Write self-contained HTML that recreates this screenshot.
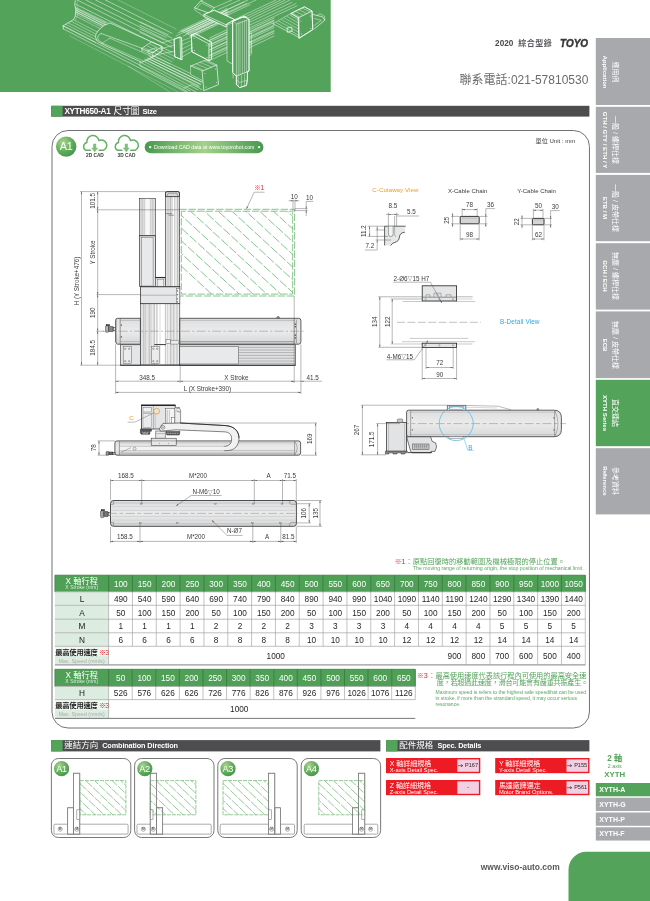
<!DOCTYPE html>
<html lang="zh-Hant">
<head>
<meta charset="utf-8">
<title>XYTH650-A1 尺寸圖 Size</title>
<style>
html,body{margin:0;padding:0;background:#fff;}
body{width:650px;height:901px;position:relative;overflow:hidden;font-family:"Liberation Sans","Noto Sans CJK TC",sans-serif;color:#333;}
.abs{position:absolute;}
.t{position:absolute;white-space:nowrap;line-height:1;}
.bar{position:absolute;height:11px;}
.bar span{position:absolute;left:13px;top:0;line-height:11.2px;color:#fff;font-size:8.6px;white-space:nowrap;}
.bar b{font-size:7.6px;}
.tab{position:absolute;left:595.7px;width:54.3px;color:#fff;}
.tab span{position:absolute;white-space:nowrap;line-height:1;transform-origin:0 0;transform:rotate(90deg) translateX(-50%);}
.tab .zh{font-size:7px;}
.tab .en{font-size:6.1px;font-weight:bold;}
.stab{position:absolute;left:595.7px;width:54.3px;height:13.2px;color:#fff;font-weight:bold;font-size:7px;line-height:13.4px;text-indent:3.6px;}
.cell{position:absolute;text-align:center;white-space:nowrap;font-size:8.25px;color:#231f20;}
.hd{color:#fff;}
.btn{position:absolute;width:94.3px;height:15.2px;color:#fff;}
.btn .zh{position:absolute;left:3.7px;top:1.6px;font-size:7px;line-height:1;white-space:nowrap;}
.btn .en{position:absolute;left:3.7px;top:9.9px;font-size:5.75px;line-height:1;white-space:nowrap;}
.btn .pg svg{vertical-align:0;margin-right:1.6px;}
.btn .pg{position:absolute;right:1.4px;top:1.4px;width:21.6px;height:12.4px;color:#231f20;font-size:5.6px;line-height:12.6px;text-align:center;white-space:nowrap;}
svg text{font-family:"Liberation Sans","Noto Sans CJK TC",sans-serif;}
</style>
</head>
<body>
<div id="pg" style="position:absolute;left:0;top:0;width:650px;height:901px;overflow:hidden;will-change:transform;">

<svg class="abs" style="left:0;top:0;" width="650" height="901" viewBox="0 0 650 901"><rect x="0.00" y="0.00" width="330.70" height="92.00" fill="#54a35b" /><rect x="595.80" y="38.00" width="54.40" height="67.00" fill="#a7a9ac" /><rect x="595.80" y="106.80" width="54.40" height="66.10" fill="#a7a9ac" /><rect x="595.80" y="174.90" width="54.40" height="66.30" fill="#a7a9ac" /><rect x="595.80" y="243.20" width="54.40" height="66.40" fill="#a7a9ac" /><rect x="595.80" y="311.40" width="54.40" height="66.70" fill="#a7a9ac" /><rect x="595.80" y="379.80" width="54.40" height="66.40" fill="#54a35b" /><rect x="595.80" y="448.20" width="54.40" height="66.20" fill="#a7a9ac" /><rect x="51.20" y="105.80" width="538.20" height="10.80" fill="#4d4d4f" /><rect x="51.20" y="105.80" width="11.40" height="10.80" fill="#54a35b" /><rect x="51.20" y="740.10" width="329.20" height="11.30" fill="#4d4d4f" /><rect x="51.20" y="740.10" width="11.40" height="11.30" fill="#54a35b" /><rect x="386.10" y="740.10" width="203.30" height="11.30" fill="#4d4d4f" /><rect x="386.10" y="740.10" width="11.50" height="11.30" fill="#54a35b" /><rect x="54.90" y="575.20" width="53.70" height="16.60" fill="#4f9f57" /><rect x="108.60" y="575.20" width="23.84" height="16.60" fill="#4f9f57" /><rect x="132.44" y="575.20" width="23.84" height="16.60" fill="#4f9f57" /><rect x="156.27" y="575.20" width="23.84" height="16.60" fill="#4f9f57" /><rect x="180.10" y="575.20" width="23.84" height="16.60" fill="#4f9f57" /><rect x="203.94" y="575.20" width="23.84" height="16.60" fill="#4f9f57" /><rect x="227.78" y="575.20" width="23.84" height="16.60" fill="#4f9f57" /><rect x="251.61" y="575.20" width="23.84" height="16.60" fill="#4f9f57" /><rect x="275.44" y="575.20" width="23.84" height="16.60" fill="#4f9f57" /><rect x="299.28" y="575.20" width="23.84" height="16.60" fill="#4f9f57" /><rect x="323.12" y="575.20" width="23.84" height="16.60" fill="#4f9f57" /><rect x="346.95" y="575.20" width="23.84" height="16.60" fill="#4f9f57" /><rect x="370.78" y="575.20" width="23.84" height="16.60" fill="#4f9f57" /><rect x="394.62" y="575.20" width="23.84" height="16.60" fill="#4f9f57" /><rect x="418.46" y="575.20" width="23.84" height="16.60" fill="#4f9f57" /><rect x="442.29" y="575.20" width="23.84" height="16.60" fill="#4f9f57" /><rect x="466.12" y="575.20" width="23.84" height="16.60" fill="#4f9f57" /><rect x="489.96" y="575.20" width="23.84" height="16.60" fill="#4f9f57" /><rect x="513.79" y="575.20" width="23.84" height="16.60" fill="#4f9f57" /><rect x="537.63" y="575.20" width="23.84" height="16.60" fill="#4f9f57" /><rect x="561.47" y="575.20" width="23.84" height="16.60" fill="#4f9f57" /><rect x="54.90" y="591.80" width="53.70" height="13.50" fill="#dcece0" /><rect x="54.90" y="605.30" width="53.70" height="13.90" fill="#dcece0" /><rect x="54.90" y="619.20" width="53.70" height="13.60" fill="#dcece0" /><rect x="54.90" y="632.80" width="53.70" height="13.50" fill="#dcece0" /><rect x="54.90" y="646.30" width="53.70" height="18.10" fill="#dcece0" /><rect x="54.90" y="646.30" width="53.70" height="9.77" fill="#f1f8f2" /><rect x="54.90" y="669.30" width="53.70" height="17.10" fill="#4f9f57" /><rect x="108.60" y="669.30" width="23.59" height="17.10" fill="#4f9f57" /><rect x="132.19" y="669.30" width="23.59" height="17.10" fill="#4f9f57" /><rect x="155.78" y="669.30" width="23.59" height="17.10" fill="#4f9f57" /><rect x="179.38" y="669.30" width="23.59" height="17.10" fill="#4f9f57" /><rect x="202.97" y="669.30" width="23.59" height="17.10" fill="#4f9f57" /><rect x="226.56" y="669.30" width="23.59" height="17.10" fill="#4f9f57" /><rect x="250.15" y="669.30" width="23.59" height="17.10" fill="#4f9f57" /><rect x="273.75" y="669.30" width="23.59" height="17.10" fill="#4f9f57" /><rect x="297.34" y="669.30" width="23.59" height="17.10" fill="#4f9f57" /><rect x="320.93" y="669.30" width="23.59" height="17.10" fill="#4f9f57" /><rect x="344.52" y="669.30" width="23.59" height="17.10" fill="#4f9f57" /><rect x="368.12" y="669.30" width="23.59" height="17.10" fill="#4f9f57" /><rect x="391.71" y="669.30" width="23.59" height="17.10" fill="#4f9f57" /><rect x="54.90" y="686.40" width="53.70" height="13.20" fill="#dcece0" /><rect x="54.90" y="699.60" width="53.70" height="18.80" fill="#dcece0" /><rect x="54.90" y="699.60" width="53.70" height="10.15" fill="#f1f8f2" /><rect x="386.00" y="758.00" width="94.30" height="15.20" fill="#ed1c24" /><rect x="457.30" y="759.40" width="21.60" height="12.40" fill="#f3cfe3" /><rect x="495.20" y="758.00" width="94.30" height="15.20" fill="#ed1c24" /><rect x="566.50" y="759.40" width="21.60" height="12.40" fill="#f3cfe3" /><rect x="386.00" y="780.00" width="94.30" height="15.20" fill="#ed1c24" /><rect x="457.30" y="781.40" width="21.60" height="12.40" fill="#f3cfe3" /><rect x="495.20" y="780.00" width="94.30" height="15.20" fill="#ed1c24" /><rect x="566.50" y="781.40" width="21.60" height="12.40" fill="#f3cfe3" /><rect x="595.80" y="783.00" width="54.40" height="13.30" fill="#54a35b" /><rect x="595.80" y="797.75" width="54.40" height="13.30" fill="#a7a9ac" /><rect x="595.80" y="812.50" width="54.40" height="13.30" fill="#a7a9ac" /><rect x="595.80" y="827.25" width="54.40" height="13.30" fill="#a7a9ac" /><rect x="568.50" y="851.70" width="100.00" height="70.00" fill="#54a35b" rx="18"/></svg>
<svg class="abs" style="left:0;top:0;" width="331" height="92" viewBox="0 0 331 92">
<g fill="none" stroke="#fff" stroke-width="0.5" stroke-opacity="0.88" stroke-linejoin="round" stroke-linecap="round">
<polyline points="105.4,0.0 172.0,33.3" stroke-width="0.55"/>
<polyline points="95.6,0.0 172.0,38.2" stroke-width="0.55"/>
<polyline points="85.8,0.0 172.0,43.1" stroke-width="0.55"/>
<polyline points="77.2,0.0 172.0,47.4" stroke-width="0.55"/>
<polyline points="75.6,4.1 172.0,52.3" stroke-width="0.55"/>
<polyline points="118.0,0.0 176.0,29.0" stroke-width="0.45" stroke-opacity="0.60"/>
<polyline points="75.3,0.6 74.7,4.9 75.9,9.8 75.3,16.0 73.5,19.7 63.0,25.8 63.4,28.9" stroke-width="0.70"/>
<polyline points="77.4,0.4 77.0,5.0 78.0,10.0 77.4,16.0 75.6,19.9" stroke-width="0.40" stroke-opacity="0.60"/>
<polyline points="75.9,7.4 107.9,22.8" stroke-width="0.45"/>
<polyline points="75.8,9.6 107.4,25.0" stroke-width="0.45"/>
<polyline points="75.6,11.7 107.0,27.2" stroke-width="0.45"/>
<polyline points="75.5,13.8 106.5,29.4" stroke-width="0.45"/>
<polyline points="75.3,16.0 106.0,31.6" stroke-width="0.45"/>
<polyline points="76.0,8.4 106.0,23.0" stroke-width="1.00" stroke-opacity="0.55"/>
<polyline points="75.9,10.2 105.5,25.0" stroke-width="1.00" stroke-opacity="0.55"/>
<polyline points="75.8,12.0 105.0,27.0" stroke-width="1.00" stroke-opacity="0.55"/>
<polyline points="73.5,19.7 100.5,33.6" stroke-width="0.45"/>
<polyline points="70.9,21.2 99.3,35.8" stroke-width="0.45"/>
<polyline points="68.2,22.8 98.0,38.0" stroke-width="0.45"/>
<polyline points="65.6,24.3 96.8,40.2" stroke-width="0.45"/>
<polyline points="63.0,25.8 95.6,42.4" stroke-width="0.45"/>
<polyline points="63.0,25.8 190.0,90.8" stroke-width="0.55"/>
<polyline points="63.4,28.9 186.0,92.0" stroke-width="0.55"/>
<polyline points="70.0,36.0 178.0,92.0" stroke-width="0.40" stroke-opacity="0.60"/>
<polygon points="110.4,23.1 151.6,41.9 162.0,46.5 162.0,51.0 152.8,57.0 141.8,62.4 102.0,44.0 97.2,41.0 95.6,37.6 95.8,34.4 98.6,30.0 104.0,25.6" stroke-width="0.70" fill="#54a35b"/>
<polyline points="101.2,33.5 98.4,35.4 97.6,37.8 98.6,40.4 102.4,43.0" stroke-width="0.60"/>
<polyline points="101.2,33.5 143.0,48.6" stroke-width="0.60"/>
<polyline points="102.4,43.0 110.0,38.2" stroke-width="0.45"/>
<polyline points="102.4,43.0 141.8,60.4" stroke-width="0.45"/>
<polyline points="110.0,38.2 141.8,52.0" stroke-width="0.45"/>
<polygon points="141.8,48.3 151.6,41.9 162.0,46.5 152.8,52.6" stroke-width="0.70"/>
<polygon points="147.9,50.8 155.9,47.7 157.2,50.2 149.2,53.8" stroke-width="0.60"/>
<polyline points="141.8,48.3 141.8,52.0 152.8,57.0 152.8,52.6" stroke-width="0.50"/>
<polyline points="152.8,57.0 162.0,51.0 162.0,46.5" stroke-width="0.50"/>
<polyline points="140.0,21.8 168.3,34.8" stroke-width="0.50"/>
<polyline points="140.0,25.3 166.3,37.5" stroke-width="0.50"/>
<polyline points="140.0,28.9 164.2,40.1" stroke-width="0.50"/>
<polyline points="140.0,32.4 162.2,42.8" stroke-width="0.50"/>
<polyline points="162.2,42.8 174.5,39.1" stroke-width="0.50"/>
<polyline points="160.0,49.0 174.5,45.0" stroke-width="0.50"/>
<polyline points="156.0,55.0 175.0,51.0" stroke-width="0.50"/>
<polyline points="150.0,44.0 176.0,57.0" stroke-width="0.45"/>
<polyline points="147.3,46.0 174.0,59.3" stroke-width="0.45"/>
<polyline points="144.7,48.0 172.0,61.7" stroke-width="0.45"/>
<polyline points="142.0,50.0 170.0,64.0" stroke-width="0.45"/>
<polyline points="152.0,55.0 204.0,80.0" stroke-width="0.50"/>
<polyline points="149.6,56.4 202.4,82.4" stroke-width="0.50"/>
<polyline points="147.2,57.8 200.8,84.8" stroke-width="0.50"/>
<polyline points="144.8,59.2 199.2,87.2" stroke-width="0.50"/>
<polyline points="142.4,60.6 197.6,89.6" stroke-width="0.50"/>
<polyline points="140.0,62.0 196.0,92.0" stroke-width="0.50"/>
<polyline points="150.0,57.0 202.0,82.0" stroke-width="1.00" stroke-opacity="0.50"/>
<polyline points="148.0,58.5 200.5,84.0" stroke-width="1.00" stroke-opacity="0.50"/>
<polyline points="146.0,60.0 199.0,86.0" stroke-width="1.00" stroke-opacity="0.50"/>
<polyline points="140.0,62.0 140.0,66.0 188.0,92.0" stroke-width="0.50"/>
<polyline points="128.0,66.0 170.0,92.0" stroke-width="0.45" stroke-opacity="0.60"/>
<polygon points="190.6,66.0 205.8,60.0 216.8,65.0 218.5,84.6 204.2,90.5 202.5,80.5 190.6,74.5" stroke-width="0.01" fill="#54a35b"/>
<polygon points="202.5,71.0 216.8,65.0 218.5,84.6 204.2,90.5" stroke-width="0.75"/>
<polyline points="190.6,66.0 205.8,60.0 216.8,65.0" stroke-width="0.60"/>
<polyline points="190.6,66.0 202.5,71.0" stroke-width="0.60"/>
<polyline points="190.6,66.0 190.6,74.5 202.5,80.5" stroke-width="0.50"/>
<polyline points="192.3,65.3 203.4,70.2" stroke-width="0.45"/>
<polyline points="196.2,63.8 207.3,68.6" stroke-width="0.45"/>
<polyline points="200.1,62.3 211.3,67.0" stroke-width="0.45"/>
<polyline points="204.0,60.8 215.2,65.4" stroke-width="0.45"/>
<circle cx="205.0" cy="73.5" r="0.5" fill="#fff" stroke="none" fill-opacity="0.8"/>
<circle cx="215.6" cy="69.0" r="0.5" fill="#fff" stroke="none" fill-opacity="0.8"/>
<circle cx="206.0" cy="87.0" r="0.5" fill="#fff" stroke="none" fill-opacity="0.8"/>
<circle cx="216.6" cy="82.5" r="0.5" fill="#fff" stroke="none" fill-opacity="0.8"/>
<polyline points="184.0,88.0 192.0,84.6 202.0,89.6" stroke-width="0.50"/>
<polygon points="174.5,39.1 180.0,37.0 181.6,37.8 182.0,59.8 180.6,59.2 175.1,56.9" stroke-width="0.80" fill="#54a35b"/>
<polygon points="174.5,39.1 180.0,37.0 180.6,59.2 175.1,56.9" stroke-width="0.80"/>
<polyline points="180.0,37.0 181.6,37.8 182.0,59.8 180.6,59.2" stroke-width="0.50"/>
<polygon points="191.7,34.8 195.0,33.4 211.6,42.4 211.6,59.0 208.9,60.6 192.3,52.0" stroke-width="0.80" fill="#54a35b"/>
<polygon points="191.7,34.8 208.9,44.0 208.9,60.6 192.3,52.0" stroke-width="0.80"/>
<polyline points="191.7,34.8 195.0,33.4 211.6,42.4 208.9,44.0" stroke-width="0.60"/>
<polyline points="211.6,42.4 211.6,59.0 208.9,60.6" stroke-width="0.60"/>
<circle cx="194.0" cy="38.5" r="0.5" fill="#fff" stroke="none" fill-opacity="0.8"/>
<circle cx="206.8" cy="45.4" r="0.5" fill="#fff" stroke="none" fill-opacity="0.8"/>
<circle cx="194.4" cy="50.4" r="0.5" fill="#fff" stroke="none" fill-opacity="0.8"/>
<circle cx="207.0" cy="57.4" r="0.5" fill="#fff" stroke="none" fill-opacity="0.8"/>
<polyline points="181.6,41.0 191.7,37.0" stroke-width="0.45"/>
<polyline points="181.7,45.0 191.8,40.5" stroke-width="0.45"/>
<polyline points="181.8,49.0 192.0,44.0" stroke-width="0.45"/>
<polyline points="181.9,53.0 192.2,47.5" stroke-width="0.45"/>
<polyline points="182.0,57.0 192.3,51.0" stroke-width="0.45"/>
<polyline points="209.5,38.0 228.0,29.3" stroke-width="0.50"/>
<polyline points="209.5,40.0 228.0,31.3" stroke-width="0.50"/>
<polyline points="209.5,42.2 228.0,33.5" stroke-width="0.50"/>
<polyline points="209.5,44.6 228.0,35.9" stroke-width="0.50"/>
<polyline points="209.5,47.0 228.0,38.3" stroke-width="0.50"/>
<polyline points="209.5,49.6 228.0,40.9" stroke-width="0.50"/>
<polyline points="209.5,52.2 228.0,43.5" stroke-width="0.50"/>
<polyline points="209.5,55.0 228.0,46.3" stroke-width="0.50"/>
<polyline points="209.5,57.8 228.0,49.1" stroke-width="0.50"/>
<polyline points="209.5,60.6 228.0,51.9" stroke-width="0.50"/>
<polyline points="249.6,29.6 274.0,18.1" stroke-width="0.50"/>
<polyline points="249.6,31.6 274.0,20.1" stroke-width="0.50"/>
<polyline points="249.6,34.0 274.0,22.5" stroke-width="0.50"/>
<polyline points="249.6,36.6 274.0,25.1" stroke-width="0.50"/>
<polyline points="249.6,39.2 274.0,27.7" stroke-width="0.50"/>
<polyline points="249.6,42.0 274.0,30.5" stroke-width="0.50"/>
<polyline points="249.6,44.8 274.0,33.3" stroke-width="0.50"/>
<polyline points="249.6,47.6 274.0,36.1" stroke-width="0.50"/>
<polyline points="178.0,33.0 244.0,2.0" stroke-width="0.50"/>
<polyline points="187.0,31.5 247.0,3.3" stroke-width="0.50"/>
<polyline points="196.0,30.0 250.0,4.6" stroke-width="0.50"/>
<polyline points="176.0,36.0 228.0,11.6" stroke-width="0.50"/>
<polyline points="183.0,36.2 229.0,14.6" stroke-width="0.50"/>
<polyline points="190.0,36.4 230.0,17.6" stroke-width="0.50"/>
<polyline points="209.5,40.6 228.0,31.9" stroke-width="1.00" stroke-opacity="0.50"/>
<polyline points="209.5,45.4 228.0,36.7" stroke-width="1.00" stroke-opacity="0.50"/>
<polyline points="209.5,50.2 228.0,41.5" stroke-width="1.00" stroke-opacity="0.50"/>
<polyline points="209.5,56.0 228.0,47.3" stroke-width="1.00" stroke-opacity="0.50"/>
<polyline points="249.6,32.4 274.0,20.9" stroke-width="1.00" stroke-opacity="0.50"/>
<polyline points="249.6,37.6 274.0,26.1" stroke-width="1.00" stroke-opacity="0.50"/>
<polyline points="249.6,43.0 274.0,31.5" stroke-width="1.00" stroke-opacity="0.50"/>
<polyline points="180.1,30.8 227.0,8.5" stroke-width="0.50"/>
<polyline points="182.1,31.8 227.0,10.4" stroke-width="0.50"/>
<polyline points="184.2,32.7 227.0,12.4" stroke-width="0.50"/>
<polyline points="186.2,33.7 227.0,14.3" stroke-width="0.50"/>
<polyline points="188.2,34.7 227.0,16.3" stroke-width="0.50"/>
<polyline points="190.3,35.6 227.0,18.2" stroke-width="0.50"/>
<polyline points="192.3,36.6 227.0,20.2" stroke-width="0.50"/>
<polyline points="182.0,31.6 227.0,10.4" stroke-width="1.00" stroke-opacity="0.45"/>
<polyline points="186.0,33.5 227.0,14.2" stroke-width="1.00" stroke-opacity="0.45"/>
<polyline points="190.0,35.4 227.0,18.0" stroke-width="1.00" stroke-opacity="0.45"/>
<polyline points="214.3,7.6 232.0,0.0" stroke-width="0.50"/>
<polyline points="218.2,9.7 240.0,0.0" stroke-width="0.50"/>
<polyline points="222.1,11.9 248.0,0.0" stroke-width="0.50"/>
<polyline points="226.0,14.0 256.0,0.0" stroke-width="0.50"/>
<polyline points="234.6,19.5 276.0,0.0" stroke-width="0.50"/>
<polyline points="239.4,19.7 280.7,0.0" stroke-width="0.50"/>
<polyline points="244.2,19.8 285.3,0.0" stroke-width="0.50"/>
<polyline points="249.0,20.0 290.0,0.0" stroke-width="0.50"/>
<polyline points="250.0,22.0 292.0,2.4" stroke-width="0.50"/>
<polyline points="250.0,25.0 296.0,3.6" stroke-width="0.50"/>
<polyline points="250.0,27.6 297.0,5.8" stroke-width="0.50"/>
<polygon points="194.8,7.6 200.8,0.8 214.3,7.6 209.2,12.7" stroke-width="0.75" fill="#54a35b"/>
<polyline points="197.0,8.0 201.4,3.0 211.6,8.0" stroke-width="0.45"/>
<polyline points="200.8,0.8 203.0,0.0" stroke-width="0.50"/>
<polygon points="204.2,14.4 214.3,10.2 234.6,19.5 226.2,24.5 226.2,27.0 204.2,16.6" stroke-width="0.70" fill="#54a35b"/>
<polygon points="204.2,14.4 214.3,10.2 234.6,19.5 226.2,24.5" stroke-width="0.70"/>
<polyline points="194.8,7.6 194.8,10.0 204.2,16.6 204.2,14.4" stroke-width="0.50"/>
<polyline points="204.2,16.6 226.2,27.0 226.2,24.5" stroke-width="0.50"/>
<polygon points="227.0,25.4 227.0,61.0 231.2,63.4 233.0,63.0 233.0,23.0" stroke-width="0.60" fill="#54a35b"/>
<polygon points="233.0,21.2 244.8,16.2 249.0,19.5 249.0,71.0 247.4,72.0 247.4,79.6 246.4,85.4 239.6,87.6 236.4,84.6 236.4,76.2 233.0,72.8" stroke-width="0.85" fill="#54a35b"/>
<polygon points="233.0,21.2 244.8,16.2 249.0,19.5 249.0,71.0 236.4,76.2 233.0,72.8" stroke-width="0.85"/>
<polyline points="233.0,21.2 236.4,24.0 236.4,76.2" stroke-width="0.50"/>
<polyline points="236.4,24.0 249.0,19.5" stroke-width="0.50"/>
<polyline points="238.2,22.8 238.2,74.7" stroke-width="0.45"/>
<polyline points="240.0,22.1 240.0,73.9" stroke-width="0.45"/>
<polyline points="242.4,21.2 242.4,72.9" stroke-width="0.45"/>
<polyline points="244.6,20.4 244.6,72.0" stroke-width="0.45"/>
<polyline points="246.6,19.7 246.6,71.2" stroke-width="0.45"/>
<polyline points="249.0,33.8 251.6,33.0 251.6,54.2 249.0,55.8" stroke-width="0.50"/>
<polyline points="249.4,42.0 251.0,41.4 251.0,52.0 249.4,52.8" stroke-width="0.45"/>
<polyline points="236.4,76.2 236.4,84.6 239.6,87.6 246.4,85.4 247.4,79.6 247.4,71.8" stroke-width="0.70"/>
<polyline points="238.2,77.0 238.2,86.4" stroke-width="0.45"/>
<polyline points="241.4,75.7 241.4,86.2" stroke-width="0.45"/>
<polyline points="244.6,74.4 244.6,86.0" stroke-width="0.45"/>
<polyline points="236.4,80.0 239.6,82.6 247.2,80.0" stroke-width="0.45"/>
<polyline points="234.6,20.4 241.4,17.0 246.4,17.8" stroke-width="1.00"/>
<polyline points="233.0,74.0 233.0,78.0" stroke-width="0.50"/>
<polygon points="298.5,17.8 290.8,13.5 304.4,6.8 312.0,11.0 312.8,29.6 299.3,38.1" stroke-width="0.85" fill="#54a35b"/>
<polygon points="298.5,17.8 312.0,11.0 312.8,29.6 299.3,38.1" stroke-width="0.85"/>
<polyline points="298.5,17.8 290.8,13.5 304.4,6.8 312.0,11.0" stroke-width="0.60"/>
<polyline points="292.6,13.2 299.2,16.8" stroke-width="0.45"/>
<polyline points="295.9,11.5 302.7,15.1" stroke-width="0.45"/>
<polyline points="299.1,9.9 306.1,13.3" stroke-width="0.45"/>
<polyline points="302.4,8.2 309.6,11.6" stroke-width="0.45"/>
<polyline points="273.0,23.7 298.5,37.2" stroke-width="0.60"/>
<polyline points="273.0,23.7 290.8,13.5" stroke-width="0.50"/>
<polyline points="276.0,22.6 299.0,35.4" stroke-width="0.45"/>
<polyline points="278.8,21.1 298.9,32.3" stroke-width="0.45"/>
<polyline points="281.6,19.6 298.8,29.2" stroke-width="0.45"/>
<polyline points="284.4,18.0 298.8,26.2" stroke-width="0.45"/>
<polyline points="287.2,16.5 298.7,23.1" stroke-width="0.45"/>
<polyline points="290.0,15.0 298.6,20.0" stroke-width="0.45"/>
<polyline points="312.8,14.4 323.0,17.0 324.7,20.3 314.5,28.8" stroke-width="0.70"/>
<polyline points="314.5,18.6 321.3,20.3 314.5,25.4" stroke-width="0.50"/>
<polyline points="317.0,15.6 320.0,13.6 324.7,16.4 324.7,20.3" stroke-width="0.50"/>
<polygon points="287.4,27.9 291.7,27.1 292.2,31.3 287.8,32.2" stroke-width="0.80"/>
<circle cx="301.0" cy="21.0" r="0.5" fill="#fff" stroke="none" fill-opacity="0.8"/>
<circle cx="310.4" cy="16.0" r="0.5" fill="#fff" stroke="none" fill-opacity="0.8"/>
<circle cx="301.6" cy="34.0" r="0.5" fill="#fff" stroke="none" fill-opacity="0.8"/>
<circle cx="310.8" cy="28.6" r="0.5" fill="#fff" stroke="none" fill-opacity="0.8"/>
</g></svg>
<div class="t" id="y2020" style="left:495.1px;top:39.6px;font-size:8.2px;font-weight:bold;color:#4a4a4c;">2020</div>
<div class="t" id="cat" style="left:518.3px;top:39.5px;font-size:8px;font-weight:bold;color:#55565a;letter-spacing:0.45px;">綜合型錄</div>
<div class="t" id="toyo" style="left:560.4px;top:37.6px;font-size:11.3px;font-weight:bold;font-style:italic;color:#3a3a3a;transform-origin:0 50%;transform:scaleX(0.88);-webkit-text-stroke:0.5px #3a3a3a;">TOYO</div>
<div class="t" id="phone" style="left:459.6px;top:73.9px;font-size:12px;color:#6a6b6e;">聯系電話:021-57810530</div>
<div class="t" id="unit" style="left:535.6px;top:138.1px;font-size:6.1px;color:#3a3a3a;">單位 <span style="font-size:6px">Unit : mm</span></div>
<div class="tab" style="top:38.0px;height:67.0px;">
<span class="zh" style="left:23.2px;top:33.5px;">應用例</span>
<span class="en" style="left:12.1px;top:33.5px;">Application</span>
</div>
<div class="tab" style="top:106.8px;height:66.1px;">
<span class="zh" style="left:23.2px;top:33.1px;">一般 / 螺桿仕樣</span>
<span class="en" style="left:12.1px;top:33.1px;">GTH / GTY / ETH / Y</span>
</div>
<div class="tab" style="top:174.9px;height:66.3px;">
<span class="zh" style="left:23.2px;top:33.1px;">一般 / 皮帶仕樣</span>
<span class="en" style="left:12.1px;top:33.1px;">ETB / M</span>
</div>
<div class="tab" style="top:243.2px;height:66.4px;">
<span class="zh" style="left:23.2px;top:33.2px;">無塵 / 螺桿仕樣</span>
<span class="en" style="left:12.1px;top:33.2px;">GCH / ECH</span>
</div>
<div class="tab" style="top:311.4px;height:66.7px;">
<span class="zh" style="left:23.2px;top:33.4px;">無塵 / 皮帶仕樣</span>
<span class="en" style="left:12.1px;top:33.4px;">ECB</span>
</div>
<div class="tab" style="top:379.8px;height:66.4px;">
<span class="zh" style="left:23.2px;top:33.2px;">直交連結</span>
<span class="en" style="left:12.1px;top:33.2px;">XYTH Series</span>
</div>
<div class="tab" style="top:448.2px;height:66.2px;">
<span class="zh" style="left:23.2px;top:33.1px;">參考資料</span>
<span class="en" style="left:12.1px;top:33.1px;">Reference</span>
</div>
<div class="bar" style="left:51px;top:105.6px;width:538.2px;"><span id="h1a" style="left:13.4px;"><b style="font-size:8.2px;letter-spacing:-0.25px;">XYTH650-A1</b></span><span id="h1b" style="left:62.6px;font-size:8.6px;">尺寸圖</span><span id="h1c" style="left:91.4px;"><b style="font-size:7.6px;letter-spacing:-0.2px;">Size</b></span></div>
<div class="bar" style="left:51px;top:740.3px;width:329.6px;height:11.2px;"><span id="h2a" style="left:13.2px;font-size:8.5px;">連結方向</span><span id="h2b" style="left:51.2px;"><b style="font-size:7.3px;letter-spacing:-0.12px;">Combination Direction</b></span></div>
<div class="bar" style="left:386px;top:740.3px;width:203.2px;height:11.2px;"><span id="h3a" style="left:13.2px;font-size:8.5px;">配件規格</span><span id="h3b" style="left:51.4px;"><b style="font-size:7.3px;letter-spacing:-0.12px;">Spec. Details</b></span></div>
<svg class="abs" style="left:0;top:0;" width="650" height="901" viewBox="0 0 650 901"><rect x="52" y="130.5" width="537.45" height="597.5" rx="16" ry="16" fill="none" stroke="#707174" stroke-width="1"/></svg>
<div class="cell hd" style="left:54.90px;top:575.20px;width:53.70px;height:16.60px;"><span class="t" style="left:0;width:100%;top:2.4px;font-size:8.2px;color:#fff;letter-spacing:0px;">X 軸行程</span><span class="t" style="left:0;width:100%;top:11.1px;font-size:4.9px;color:#d9eedb;letter-spacing:0.1px;">X Stroke (mm)</span></div>
<div class="cell hd" style="left:108.90px;top:578px;width:23.84px;height:14px;line-height:14px;">100</div>
<div class="cell hd" style="left:132.74px;top:578px;width:23.84px;height:14px;line-height:14px;">150</div>
<div class="cell hd" style="left:156.57px;top:578px;width:23.84px;height:14px;line-height:14px;">200</div>
<div class="cell hd" style="left:180.41px;top:578px;width:23.84px;height:14px;line-height:14px;">250</div>
<div class="cell hd" style="left:204.24px;top:578px;width:23.84px;height:14px;line-height:14px;">300</div>
<div class="cell hd" style="left:228.08px;top:578px;width:23.84px;height:14px;line-height:14px;">350</div>
<div class="cell hd" style="left:251.91px;top:578px;width:23.84px;height:14px;line-height:14px;">400</div>
<div class="cell hd" style="left:275.75px;top:578px;width:23.84px;height:14px;line-height:14px;">450</div>
<div class="cell hd" style="left:299.58px;top:578px;width:23.84px;height:14px;line-height:14px;">500</div>
<div class="cell hd" style="left:323.42px;top:578px;width:23.84px;height:14px;line-height:14px;">550</div>
<div class="cell hd" style="left:347.25px;top:578px;width:23.84px;height:14px;line-height:14px;">600</div>
<div class="cell hd" style="left:371.08px;top:578px;width:23.84px;height:14px;line-height:14px;">650</div>
<div class="cell hd" style="left:394.92px;top:578px;width:23.84px;height:14px;line-height:14px;">700</div>
<div class="cell hd" style="left:418.76px;top:578px;width:23.84px;height:14px;line-height:14px;">750</div>
<div class="cell hd" style="left:442.59px;top:578px;width:23.84px;height:14px;line-height:14px;">800</div>
<div class="cell hd" style="left:466.43px;top:578px;width:23.84px;height:14px;line-height:14px;">850</div>
<div class="cell hd" style="left:490.26px;top:578px;width:23.84px;height:14px;line-height:14px;">900</div>
<div class="cell hd" style="left:514.09px;top:578px;width:23.84px;height:14px;line-height:14px;">950</div>
<div class="cell hd" style="left:537.93px;top:578px;width:23.84px;height:14px;line-height:14px;">1000</div>
<div class="cell hd" style="left:561.76px;top:578px;width:23.84px;height:14px;line-height:14px;">1050</div>
<div class="cell " style="left:55.20px;top:593px;width:53.70px;height:14px;line-height:14px;color:#222;">L</div>
<div class="cell " style="left:108.90px;top:593px;width:23.84px;height:14px;line-height:14px;">490</div>
<div class="cell " style="left:132.74px;top:593px;width:23.84px;height:14px;line-height:14px;">540</div>
<div class="cell " style="left:156.57px;top:593px;width:23.84px;height:14px;line-height:14px;">590</div>
<div class="cell " style="left:180.41px;top:593px;width:23.84px;height:14px;line-height:14px;">640</div>
<div class="cell " style="left:204.24px;top:593px;width:23.84px;height:14px;line-height:14px;">690</div>
<div class="cell " style="left:228.08px;top:593px;width:23.84px;height:14px;line-height:14px;">740</div>
<div class="cell " style="left:251.91px;top:593px;width:23.84px;height:14px;line-height:14px;">790</div>
<div class="cell " style="left:275.75px;top:593px;width:23.84px;height:14px;line-height:14px;">840</div>
<div class="cell " style="left:299.58px;top:593px;width:23.84px;height:14px;line-height:14px;">890</div>
<div class="cell " style="left:323.42px;top:593px;width:23.84px;height:14px;line-height:14px;">940</div>
<div class="cell " style="left:347.25px;top:593px;width:23.84px;height:14px;line-height:14px;">990</div>
<div class="cell " style="left:371.08px;top:593px;width:23.84px;height:14px;line-height:14px;">1040</div>
<div class="cell " style="left:394.92px;top:593px;width:23.84px;height:14px;line-height:14px;">1090</div>
<div class="cell " style="left:418.76px;top:593px;width:23.84px;height:14px;line-height:14px;">1140</div>
<div class="cell " style="left:442.59px;top:593px;width:23.84px;height:14px;line-height:14px;">1190</div>
<div class="cell " style="left:466.43px;top:593px;width:23.84px;height:14px;line-height:14px;">1240</div>
<div class="cell " style="left:490.26px;top:593px;width:23.84px;height:14px;line-height:14px;">1290</div>
<div class="cell " style="left:514.09px;top:593px;width:23.84px;height:14px;line-height:14px;">1340</div>
<div class="cell " style="left:537.93px;top:593px;width:23.84px;height:14px;line-height:14px;">1390</div>
<div class="cell " style="left:561.76px;top:593px;width:23.84px;height:14px;line-height:14px;">1440</div>
<div class="cell " style="left:55.20px;top:607px;width:53.70px;height:14px;line-height:14px;color:#222;">A</div>
<div class="cell " style="left:108.90px;top:607px;width:23.84px;height:14px;line-height:14px;">50</div>
<div class="cell " style="left:132.74px;top:607px;width:23.84px;height:14px;line-height:14px;">100</div>
<div class="cell " style="left:156.57px;top:607px;width:23.84px;height:14px;line-height:14px;">150</div>
<div class="cell " style="left:180.41px;top:607px;width:23.84px;height:14px;line-height:14px;">200</div>
<div class="cell " style="left:204.24px;top:607px;width:23.84px;height:14px;line-height:14px;">50</div>
<div class="cell " style="left:228.08px;top:607px;width:23.84px;height:14px;line-height:14px;">100</div>
<div class="cell " style="left:251.91px;top:607px;width:23.84px;height:14px;line-height:14px;">150</div>
<div class="cell " style="left:275.75px;top:607px;width:23.84px;height:14px;line-height:14px;">200</div>
<div class="cell " style="left:299.58px;top:607px;width:23.84px;height:14px;line-height:14px;">50</div>
<div class="cell " style="left:323.42px;top:607px;width:23.84px;height:14px;line-height:14px;">100</div>
<div class="cell " style="left:347.25px;top:607px;width:23.84px;height:14px;line-height:14px;">150</div>
<div class="cell " style="left:371.08px;top:607px;width:23.84px;height:14px;line-height:14px;">200</div>
<div class="cell " style="left:394.92px;top:607px;width:23.84px;height:14px;line-height:14px;">50</div>
<div class="cell " style="left:418.76px;top:607px;width:23.84px;height:14px;line-height:14px;">100</div>
<div class="cell " style="left:442.59px;top:607px;width:23.84px;height:14px;line-height:14px;">150</div>
<div class="cell " style="left:466.43px;top:607px;width:23.84px;height:14px;line-height:14px;">200</div>
<div class="cell " style="left:490.26px;top:607px;width:23.84px;height:14px;line-height:14px;">50</div>
<div class="cell " style="left:514.09px;top:607px;width:23.84px;height:14px;line-height:14px;">100</div>
<div class="cell " style="left:537.93px;top:607px;width:23.84px;height:14px;line-height:14px;">150</div>
<div class="cell " style="left:561.76px;top:607px;width:23.84px;height:14px;line-height:14px;">200</div>
<div class="cell " style="left:55.20px;top:620px;width:53.70px;height:14px;line-height:14px;color:#222;">M</div>
<div class="cell " style="left:108.90px;top:620px;width:23.84px;height:14px;line-height:14px;">1</div>
<div class="cell " style="left:132.74px;top:620px;width:23.84px;height:14px;line-height:14px;">1</div>
<div class="cell " style="left:156.57px;top:620px;width:23.84px;height:14px;line-height:14px;">1</div>
<div class="cell " style="left:180.41px;top:620px;width:23.84px;height:14px;line-height:14px;">1</div>
<div class="cell " style="left:204.24px;top:620px;width:23.84px;height:14px;line-height:14px;">2</div>
<div class="cell " style="left:228.08px;top:620px;width:23.84px;height:14px;line-height:14px;">2</div>
<div class="cell " style="left:251.91px;top:620px;width:23.84px;height:14px;line-height:14px;">2</div>
<div class="cell " style="left:275.75px;top:620px;width:23.84px;height:14px;line-height:14px;">2</div>
<div class="cell " style="left:299.58px;top:620px;width:23.84px;height:14px;line-height:14px;">3</div>
<div class="cell " style="left:323.42px;top:620px;width:23.84px;height:14px;line-height:14px;">3</div>
<div class="cell " style="left:347.25px;top:620px;width:23.84px;height:14px;line-height:14px;">3</div>
<div class="cell " style="left:371.08px;top:620px;width:23.84px;height:14px;line-height:14px;">3</div>
<div class="cell " style="left:394.92px;top:620px;width:23.84px;height:14px;line-height:14px;">4</div>
<div class="cell " style="left:418.76px;top:620px;width:23.84px;height:14px;line-height:14px;">4</div>
<div class="cell " style="left:442.59px;top:620px;width:23.84px;height:14px;line-height:14px;">4</div>
<div class="cell " style="left:466.43px;top:620px;width:23.84px;height:14px;line-height:14px;">4</div>
<div class="cell " style="left:490.26px;top:620px;width:23.84px;height:14px;line-height:14px;">5</div>
<div class="cell " style="left:514.09px;top:620px;width:23.84px;height:14px;line-height:14px;">5</div>
<div class="cell " style="left:537.93px;top:620px;width:23.84px;height:14px;line-height:14px;">5</div>
<div class="cell " style="left:561.76px;top:620px;width:23.84px;height:14px;line-height:14px;">5</div>
<div class="cell " style="left:55.20px;top:634px;width:53.70px;height:14px;line-height:14px;color:#222;">N</div>
<div class="cell " style="left:108.90px;top:634px;width:23.84px;height:14px;line-height:14px;">6</div>
<div class="cell " style="left:132.74px;top:634px;width:23.84px;height:14px;line-height:14px;">6</div>
<div class="cell " style="left:156.57px;top:634px;width:23.84px;height:14px;line-height:14px;">6</div>
<div class="cell " style="left:180.41px;top:634px;width:23.84px;height:14px;line-height:14px;">6</div>
<div class="cell " style="left:204.24px;top:634px;width:23.84px;height:14px;line-height:14px;">8</div>
<div class="cell " style="left:228.08px;top:634px;width:23.84px;height:14px;line-height:14px;">8</div>
<div class="cell " style="left:251.91px;top:634px;width:23.84px;height:14px;line-height:14px;">8</div>
<div class="cell " style="left:275.75px;top:634px;width:23.84px;height:14px;line-height:14px;">8</div>
<div class="cell " style="left:299.58px;top:634px;width:23.84px;height:14px;line-height:14px;">10</div>
<div class="cell " style="left:323.42px;top:634px;width:23.84px;height:14px;line-height:14px;">10</div>
<div class="cell " style="left:347.25px;top:634px;width:23.84px;height:14px;line-height:14px;">10</div>
<div class="cell " style="left:371.08px;top:634px;width:23.84px;height:14px;line-height:14px;">10</div>
<div class="cell " style="left:394.92px;top:634px;width:23.84px;height:14px;line-height:14px;">12</div>
<div class="cell " style="left:418.76px;top:634px;width:23.84px;height:14px;line-height:14px;">12</div>
<div class="cell " style="left:442.59px;top:634px;width:23.84px;height:14px;line-height:14px;">12</div>
<div class="cell " style="left:466.43px;top:634px;width:23.84px;height:14px;line-height:14px;">12</div>
<div class="cell " style="left:490.26px;top:634px;width:23.84px;height:14px;line-height:14px;">14</div>
<div class="cell " style="left:514.09px;top:634px;width:23.84px;height:14px;line-height:14px;">14</div>
<div class="cell " style="left:537.93px;top:634px;width:23.84px;height:14px;line-height:14px;">14</div>
<div class="cell " style="left:561.76px;top:634px;width:23.84px;height:14px;line-height:14px;">14</div>
<div class="cell" style="left:54.90px;top:646.30px;width:53.70px;height:18.10px;"><span class="t" style="left:0.4px;top:2.4px;font-size:7.3px;font-weight:bold;color:#222;letter-spacing:-0.25px;">最高使用速度 <span style="color:#ed1c24;font-weight:normal;letter-spacing:0;margin-left:-0.6px;"><span style="letter-spacing:-0.9px;">※</span>3</span></span><span class="t" style="left:0;width:100%;top:12.6px;font-size:5.1px;color:#a3aca5;letter-spacing:0.1px;">Max. Speed (mm/s)</span></div>
<div class="cell " style="left:108.90px;top:650px;width:333.69px;height:14px;line-height:14px;">1000</div>
<div class="cell " style="left:442.59px;top:650px;width:23.84px;height:14px;line-height:14px;">900</div>
<div class="cell " style="left:466.43px;top:650px;width:23.84px;height:14px;line-height:14px;">800</div>
<div class="cell " style="left:490.26px;top:650px;width:23.84px;height:14px;line-height:14px;">700</div>
<div class="cell " style="left:514.09px;top:650px;width:23.84px;height:14px;line-height:14px;">600</div>
<div class="cell " style="left:537.93px;top:650px;width:23.84px;height:14px;line-height:14px;">500</div>
<div class="cell " style="left:561.76px;top:650px;width:23.84px;height:14px;line-height:14px;">400</div>
<div class="cell hd" style="left:54.90px;top:669.30px;width:53.70px;height:17.10px;"><span class="t" style="left:0;width:100%;top:2.4px;font-size:8.2px;color:#fff;letter-spacing:0px;">X 軸行程</span><span class="t" style="left:0;width:100%;top:11.1px;font-size:4.9px;color:#d9eedb;letter-spacing:0.1px;">X Stroke (mm)</span></div>
<div class="cell hd" style="left:108.90px;top:672px;width:23.59px;height:14px;line-height:14px;">50</div>
<div class="cell hd" style="left:132.49px;top:672px;width:23.59px;height:14px;line-height:14px;">100</div>
<div class="cell hd" style="left:156.08px;top:672px;width:23.59px;height:14px;line-height:14px;">150</div>
<div class="cell hd" style="left:179.68px;top:672px;width:23.59px;height:14px;line-height:14px;">200</div>
<div class="cell hd" style="left:203.27px;top:672px;width:23.59px;height:14px;line-height:14px;">250</div>
<div class="cell hd" style="left:226.86px;top:672px;width:23.59px;height:14px;line-height:14px;">300</div>
<div class="cell hd" style="left:250.45px;top:672px;width:23.59px;height:14px;line-height:14px;">350</div>
<div class="cell hd" style="left:274.05px;top:672px;width:23.59px;height:14px;line-height:14px;">400</div>
<div class="cell hd" style="left:297.64px;top:672px;width:23.59px;height:14px;line-height:14px;">450</div>
<div class="cell hd" style="left:321.23px;top:672px;width:23.59px;height:14px;line-height:14px;">500</div>
<div class="cell hd" style="left:344.82px;top:672px;width:23.59px;height:14px;line-height:14px;">550</div>
<div class="cell hd" style="left:368.42px;top:672px;width:23.59px;height:14px;line-height:14px;">600</div>
<div class="cell hd" style="left:392.01px;top:672px;width:23.59px;height:14px;line-height:14px;">650</div>
<div class="cell " style="left:55.20px;top:687px;width:53.70px;height:14px;line-height:14px;color:#222;">H</div>
<div class="cell " style="left:108.90px;top:687px;width:23.59px;height:14px;line-height:14px;">526</div>
<div class="cell " style="left:132.49px;top:687px;width:23.59px;height:14px;line-height:14px;">576</div>
<div class="cell " style="left:156.08px;top:687px;width:23.59px;height:14px;line-height:14px;">626</div>
<div class="cell " style="left:179.68px;top:687px;width:23.59px;height:14px;line-height:14px;">626</div>
<div class="cell " style="left:203.27px;top:687px;width:23.59px;height:14px;line-height:14px;">726</div>
<div class="cell " style="left:226.86px;top:687px;width:23.59px;height:14px;line-height:14px;">776</div>
<div class="cell " style="left:250.45px;top:687px;width:23.59px;height:14px;line-height:14px;">826</div>
<div class="cell " style="left:274.05px;top:687px;width:23.59px;height:14px;line-height:14px;">876</div>
<div class="cell " style="left:297.64px;top:687px;width:23.59px;height:14px;line-height:14px;">926</div>
<div class="cell " style="left:321.23px;top:687px;width:23.59px;height:14px;line-height:14px;">976</div>
<div class="cell " style="left:344.82px;top:687px;width:23.59px;height:14px;line-height:14px;">1026</div>
<div class="cell " style="left:368.42px;top:687px;width:23.59px;height:14px;line-height:14px;">1076</div>
<div class="cell " style="left:392.01px;top:687px;width:23.59px;height:14px;line-height:14px;">1126</div>
<div class="cell" style="left:54.90px;top:699.60px;width:53.70px;height:18.80px;"><span class="t" style="left:0.4px;top:2.4px;font-size:7.3px;font-weight:bold;color:#222;letter-spacing:-0.25px;">最高使用速度 <span style="color:#ed1c24;font-weight:normal;letter-spacing:0;margin-left:-0.6px;"><span style="letter-spacing:-0.9px;">※</span>3</span></span><span class="t" style="left:0;width:100%;top:12.6px;font-size:5.1px;color:#a3aca5;letter-spacing:0.1px;">Max. Speed (mm/s)</span></div>
<div class="cell " style="left:108.90px;top:703px;width:260.80px;height:14px;line-height:14px;">1000</div>
<svg class="abs" style="left:0;top:0;" width="650" height="901" viewBox="0 0 650 901"><line x1="54.90" y1="575.20" x2="585.30" y2="575.20" stroke="#3c7d43" stroke-width="0.80" /><line x1="54.90" y1="591.80" x2="585.30" y2="591.80" stroke="#a3a3a3" stroke-width="0.70" /><line x1="54.90" y1="605.30" x2="585.30" y2="605.30" stroke="#a3a3a3" stroke-width="0.70" /><line x1="54.90" y1="619.20" x2="585.30" y2="619.20" stroke="#a3a3a3" stroke-width="0.70" /><line x1="54.90" y1="632.80" x2="585.30" y2="632.80" stroke="#a3a3a3" stroke-width="0.70" /><line x1="54.90" y1="646.30" x2="585.30" y2="646.30" stroke="#a3a3a3" stroke-width="0.70" /><line x1="54.90" y1="664.90" x2="585.60" y2="664.90" stroke="#9a9a9a" stroke-width="1.30" /><line x1="108.60" y1="575.20" x2="108.60" y2="591.80" stroke="#33783c" stroke-width="0.90" /><line x1="108.60" y1="591.80" x2="108.60" y2="664.40" stroke="#9a9a9a" stroke-width="0.60" /><line x1="132.44" y1="575.20" x2="132.44" y2="591.80" stroke="#33783c" stroke-width="0.90" /><line x1="132.44" y1="591.80" x2="132.44" y2="646.30" stroke="#9a9a9a" stroke-width="0.60" /><line x1="156.27" y1="575.20" x2="156.27" y2="591.80" stroke="#33783c" stroke-width="0.90" /><line x1="156.27" y1="591.80" x2="156.27" y2="646.30" stroke="#9a9a9a" stroke-width="0.60" /><line x1="180.10" y1="575.20" x2="180.10" y2="591.80" stroke="#33783c" stroke-width="0.90" /><line x1="180.10" y1="591.80" x2="180.10" y2="646.30" stroke="#9a9a9a" stroke-width="0.60" /><line x1="203.94" y1="575.20" x2="203.94" y2="591.80" stroke="#33783c" stroke-width="0.90" /><line x1="203.94" y1="591.80" x2="203.94" y2="646.30" stroke="#9a9a9a" stroke-width="0.60" /><line x1="227.78" y1="575.20" x2="227.78" y2="591.80" stroke="#33783c" stroke-width="0.90" /><line x1="227.78" y1="591.80" x2="227.78" y2="646.30" stroke="#9a9a9a" stroke-width="0.60" /><line x1="251.61" y1="575.20" x2="251.61" y2="591.80" stroke="#33783c" stroke-width="0.90" /><line x1="251.61" y1="591.80" x2="251.61" y2="646.30" stroke="#9a9a9a" stroke-width="0.60" /><line x1="275.44" y1="575.20" x2="275.44" y2="591.80" stroke="#33783c" stroke-width="0.90" /><line x1="275.44" y1="591.80" x2="275.44" y2="646.30" stroke="#9a9a9a" stroke-width="0.60" /><line x1="299.28" y1="575.20" x2="299.28" y2="591.80" stroke="#33783c" stroke-width="0.90" /><line x1="299.28" y1="591.80" x2="299.28" y2="646.30" stroke="#9a9a9a" stroke-width="0.60" /><line x1="323.12" y1="575.20" x2="323.12" y2="591.80" stroke="#33783c" stroke-width="0.90" /><line x1="323.12" y1="591.80" x2="323.12" y2="646.30" stroke="#9a9a9a" stroke-width="0.60" /><line x1="346.95" y1="575.20" x2="346.95" y2="591.80" stroke="#33783c" stroke-width="0.90" /><line x1="346.95" y1="591.80" x2="346.95" y2="646.30" stroke="#9a9a9a" stroke-width="0.60" /><line x1="370.78" y1="575.20" x2="370.78" y2="591.80" stroke="#33783c" stroke-width="0.90" /><line x1="370.78" y1="591.80" x2="370.78" y2="646.30" stroke="#9a9a9a" stroke-width="0.60" /><line x1="394.62" y1="575.20" x2="394.62" y2="591.80" stroke="#33783c" stroke-width="0.90" /><line x1="394.62" y1="591.80" x2="394.62" y2="646.30" stroke="#9a9a9a" stroke-width="0.60" /><line x1="418.46" y1="575.20" x2="418.46" y2="591.80" stroke="#33783c" stroke-width="0.90" /><line x1="418.46" y1="591.80" x2="418.46" y2="646.30" stroke="#9a9a9a" stroke-width="0.60" /><line x1="442.29" y1="575.20" x2="442.29" y2="591.80" stroke="#33783c" stroke-width="0.90" /><line x1="442.29" y1="591.80" x2="442.29" y2="646.30" stroke="#9a9a9a" stroke-width="0.60" /><line x1="466.12" y1="575.20" x2="466.12" y2="591.80" stroke="#33783c" stroke-width="0.90" /><line x1="466.12" y1="591.80" x2="466.12" y2="664.40" stroke="#9a9a9a" stroke-width="0.60" /><line x1="489.96" y1="575.20" x2="489.96" y2="591.80" stroke="#33783c" stroke-width="0.90" /><line x1="489.96" y1="591.80" x2="489.96" y2="664.40" stroke="#9a9a9a" stroke-width="0.60" /><line x1="513.79" y1="575.20" x2="513.79" y2="591.80" stroke="#33783c" stroke-width="0.90" /><line x1="513.79" y1="591.80" x2="513.79" y2="664.40" stroke="#9a9a9a" stroke-width="0.60" /><line x1="537.63" y1="575.20" x2="537.63" y2="591.80" stroke="#33783c" stroke-width="0.90" /><line x1="537.63" y1="591.80" x2="537.63" y2="664.40" stroke="#9a9a9a" stroke-width="0.60" /><line x1="561.47" y1="575.20" x2="561.47" y2="591.80" stroke="#33783c" stroke-width="0.90" /><line x1="561.47" y1="591.80" x2="561.47" y2="664.40" stroke="#9a9a9a" stroke-width="0.60" /><line x1="585.30" y1="575.20" x2="585.30" y2="591.80" stroke="#33783c" stroke-width="0.90" /><line x1="585.30" y1="591.80" x2="585.30" y2="664.40" stroke="#9a9a9a" stroke-width="0.60" /><line x1="54.90" y1="575.20" x2="54.90" y2="591.80" stroke="#3c7d43" stroke-width="0.70" /><line x1="54.90" y1="669.30" x2="415.30" y2="669.30" stroke="#3c7d43" stroke-width="0.80" /><line x1="54.90" y1="686.40" x2="415.30" y2="686.40" stroke="#a3a3a3" stroke-width="0.70" /><line x1="54.90" y1="699.60" x2="415.30" y2="699.60" stroke="#a3a3a3" stroke-width="0.70" /><line x1="54.90" y1="718.40" x2="415.30" y2="718.40" stroke="#6a6a6a" stroke-width="0.90" /><line x1="108.60" y1="669.30" x2="108.60" y2="686.40" stroke="#33783c" stroke-width="0.90" /><line x1="108.60" y1="686.40" x2="108.60" y2="718.40" stroke="#9a9a9a" stroke-width="0.60" /><line x1="132.19" y1="669.30" x2="132.19" y2="686.40" stroke="#33783c" stroke-width="0.90" /><line x1="132.19" y1="686.40" x2="132.19" y2="699.60" stroke="#9a9a9a" stroke-width="0.60" /><line x1="155.78" y1="669.30" x2="155.78" y2="686.40" stroke="#33783c" stroke-width="0.90" /><line x1="155.78" y1="686.40" x2="155.78" y2="699.60" stroke="#9a9a9a" stroke-width="0.60" /><line x1="179.38" y1="669.30" x2="179.38" y2="686.40" stroke="#33783c" stroke-width="0.90" /><line x1="179.38" y1="686.40" x2="179.38" y2="699.60" stroke="#9a9a9a" stroke-width="0.60" /><line x1="202.97" y1="669.30" x2="202.97" y2="686.40" stroke="#33783c" stroke-width="0.90" /><line x1="202.97" y1="686.40" x2="202.97" y2="699.60" stroke="#9a9a9a" stroke-width="0.60" /><line x1="226.56" y1="669.30" x2="226.56" y2="686.40" stroke="#33783c" stroke-width="0.90" /><line x1="226.56" y1="686.40" x2="226.56" y2="699.60" stroke="#9a9a9a" stroke-width="0.60" /><line x1="250.15" y1="669.30" x2="250.15" y2="686.40" stroke="#33783c" stroke-width="0.90" /><line x1="250.15" y1="686.40" x2="250.15" y2="699.60" stroke="#9a9a9a" stroke-width="0.60" /><line x1="273.75" y1="669.30" x2="273.75" y2="686.40" stroke="#33783c" stroke-width="0.90" /><line x1="273.75" y1="686.40" x2="273.75" y2="699.60" stroke="#9a9a9a" stroke-width="0.60" /><line x1="297.34" y1="669.30" x2="297.34" y2="686.40" stroke="#33783c" stroke-width="0.90" /><line x1="297.34" y1="686.40" x2="297.34" y2="699.60" stroke="#9a9a9a" stroke-width="0.60" /><line x1="320.93" y1="669.30" x2="320.93" y2="686.40" stroke="#33783c" stroke-width="0.90" /><line x1="320.93" y1="686.40" x2="320.93" y2="699.60" stroke="#9a9a9a" stroke-width="0.60" /><line x1="344.52" y1="669.30" x2="344.52" y2="686.40" stroke="#33783c" stroke-width="0.90" /><line x1="344.52" y1="686.40" x2="344.52" y2="699.60" stroke="#9a9a9a" stroke-width="0.60" /><line x1="368.12" y1="669.30" x2="368.12" y2="686.40" stroke="#33783c" stroke-width="0.90" /><line x1="368.12" y1="686.40" x2="368.12" y2="699.60" stroke="#9a9a9a" stroke-width="0.60" /><line x1="391.71" y1="669.30" x2="391.71" y2="686.40" stroke="#33783c" stroke-width="0.90" /><line x1="391.71" y1="686.40" x2="391.71" y2="699.60" stroke="#9a9a9a" stroke-width="0.60" /><line x1="415.30" y1="669.30" x2="415.30" y2="686.40" stroke="#33783c" stroke-width="0.90" /><line x1="415.30" y1="686.40" x2="415.30" y2="699.60" stroke="#9a9a9a" stroke-width="0.60" /><line x1="54.90" y1="669.30" x2="54.90" y2="686.40" stroke="#3c7d43" stroke-width="0.70" /></svg>
<div class="t" id="n1a" style="left:394.4px;top:557.9px;font-size:7.2px;color:#ed1c24;">※1</div>
<div class="t" id="n1b" style="left:405.6px;top:557.9px;font-size:7.26px;color:#54a35b;">：原點回復時的移動範圍及機械極限的停止位置。</div>
<div class="t" id="n1c" style="left:412.8px;top:566.3px;font-size:5.23px;color:#5aa860;">The moving range of returning origin, the stop position of mechanical limit.</div>
<div class="t" id="n3a" style="left:416.8px;top:671.7px;font-size:7px;color:#ed1c24;">※3</div>
<div class="t" id="n3b" style="left:428.3px;top:671.6px;font-size:7.19px;color:#54a35b;">：最高使用速度代表該行程內可使用的最高安全速</div>
<div class="t" id="n3c" style="left:436.7px;top:680.2px;font-size:7.1px;letter-spacing:-0.22px;color:#54a35b;">度，若超過此速度，滑台可能會有嚴重共振產生。</div>
<div class="t" id="n3d" style="left:435.5px;top:688.9px;font-size:5.03px;color:#5aa860;line-height:6.05px;">Maximum speed is refers to the highest safe speedthat can be used<br>in stroke, if more than the strandard speed, it may occur serious<br>resonance.</div>
<div class="btn" style="left:386.0px;top:758.0px;"><span class="zh">X 軸詳細規格</span><span class="en">X-axis Detail Spec.</span><span class="pg"><svg width="5.2" height="3.4" viewBox="0 0 5.2 3.4"><path d="M0 1.7 H4.6 M3 0.4 L4.7 1.7 L3 3" fill="none" stroke="#231f20" stroke-width="0.6"/></svg>P167</span></div>
<div class="btn" style="left:495.2px;top:758.0px;"><span class="zh">Y 軸詳細規格</span><span class="en">Y-axis Detail Spec.</span><span class="pg"><svg width="5.2" height="3.4" viewBox="0 0 5.2 3.4"><path d="M0 1.7 H4.6 M3 0.4 L4.7 1.7 L3 3" fill="none" stroke="#231f20" stroke-width="0.6"/></svg>P155</span></div>
<div class="btn" style="left:386.0px;top:780.0px;"><span class="zh">Z 軸詳細規格</span><span class="en">Z-axis Detail Spec.</span><span class="pg">-</span></div>
<div class="btn" style="left:495.2px;top:780.0px;"><span class="zh">馬達廠牌選定</span><span class="en">Motor Brand Options.</span><span class="pg"><svg width="5.2" height="3.4" viewBox="0 0 5.2 3.4"><path d="M0 1.7 H4.6 M3 0.4 L4.7 1.7 L3 3" fill="none" stroke="#231f20" stroke-width="0.6"/></svg>P561</span></div>
<div class="t" style="left:595.7px;width:38px;text-align:center;top:755.4px;font-size:8.2px;font-weight:bold;color:#54a35b;">2 軸</div>
<div class="t" style="left:595.7px;width:38px;text-align:center;top:763.6px;font-size:5.4px;color:#54a35b;">2 axis</div>
<div class="t" style="left:595.7px;width:38px;text-align:center;top:771.1px;font-size:7.8px;font-weight:bold;color:#54a35b;">XYTH</div>
<div class="stab" style="top:783.0px;">XYTH-A</div>
<div class="stab" style="top:797.8px;">XYTH-G</div>
<div class="stab" style="top:812.5px;">XYTH-P</div>
<div class="stab" style="top:827.2px;">XYTH-F</div>
<div class="t" style="left:480.8px;top:863.2px;font-size:8.45px;font-weight:bold;color:#58585a;">www.viso-auto.com</div>
<svg class="abs" style="left:0;top:0;" width="650" height="901" viewBox="0 0 650 901">
<defs>
<linearGradient id="gh" x1="0" y1="0" x2="0" y2="1"><stop offset="0" stop-color="#dddedf"/><stop offset="0.5" stop-color="#ebebec"/><stop offset="1" stop-color="#d6d7d8"/></linearGradient>
<linearGradient id="gv" x1="0" y1="0" x2="1" y2="0"><stop offset="0" stop-color="#d4d5d7"/><stop offset="0.5" stop-color="#fafafa"/><stop offset="1" stop-color="#d9dadb"/></linearGradient>
<radialGradient id="ga" cx="0.35" cy="0.3" r="0.8"><stop offset="0" stop-color="#a9d48f"/><stop offset="0.55" stop-color="#62ad5b"/><stop offset="1" stop-color="#3f9149"/></radialGradient>
<radialGradient id="gp" cx="0.5" cy="0.5" r="0.5" gradientTransform="translate(0 0.5) scale(1 6) translate(0 -0.5)"><stop offset="0" stop-color="#a6d38b"/><stop offset="1" stop-color="#4a9b52"/></radialGradient>
<linearGradient id="gy" x1="0" y1="0" x2="1" y2="0"><stop offset="0" stop-color="#e0e1e2"/><stop offset="0.3" stop-color="#e9e9ea"/><stop offset="0.45" stop-color="#ffffff"/><stop offset="0.6" stop-color="#ffffff"/><stop offset="0.75" stop-color="#e6e6e7"/><stop offset="1" stop-color="#ededee"/></linearGradient>
<linearGradient id="gpl" x1="0" y1="0" x2="1" y2="0"><stop offset="0" stop-color="#48994f"/><stop offset="0.5" stop-color="#a3d189"/><stop offset="1" stop-color="#48994f"/></linearGradient>
</defs>
<circle cx="66.2" cy="146.6" r="10.2" fill="url(#ga)"/>
<text x="66.10" y="150.40" font-size="10.90" fill="#fff" text-anchor="middle" letter-spacing="-0.4">A1</text>
<path d="M 90.30 150.2 H 85.50 A 4.3 4.3 0 0 1 86.90 142.5 A 5.9 5.9 0 0 1 98.90 140.6 A 4.9 4.9 0 0 1 103.80 150.2 H 99.10" fill="none" stroke="#62b063" stroke-width="1.45" stroke-linecap="round" stroke-linejoin="round"/>
<path d="M 93.20 143.8 h 3 v 4 h 2 l -3.5 4.4 l -3.5 -4.4 h 2 z" fill="#7cc07a"/>
<text x="94.90" y="157.10" font-size="4.80" fill="#3c3c3c" text-anchor="middle" font-weight="bold">2D CAD</text>
<path d="M 121.90 150.2 H 117.10 A 4.3 4.3 0 0 1 118.50 142.5 A 5.9 5.9 0 0 1 130.50 140.6 A 4.9 4.9 0 0 1 135.40 150.2 H 130.70" fill="none" stroke="#62b063" stroke-width="1.45" stroke-linecap="round" stroke-linejoin="round"/>
<path d="M 124.80 143.8 h 3 v 4 h 2 l -3.5 4.4 l -3.5 -4.4 h 2 z" fill="#7cc07a"/>
<text x="126.50" y="157.10" font-size="4.80" fill="#3c3c3c" text-anchor="middle" font-weight="bold">3D CAD</text>
<rect x="144.7" y="141" width="118.7" height="12.3" rx="6.15" fill="url(#gpl)"/>
<circle cx="150.2" cy="147.2" r="1.15" fill="#fff"/><circle cx="259.1" cy="147.2" r="1.15" fill="#fff"/>
<text x="204.30" y="149.00" font-size="5.24" fill="#fff" text-anchor="middle" >Download CAD data at www.toyorobot.com</text>
<clipPath id="hc"><rect x="181.30" y="211.20" width="111.40" height="82.90"/></clipPath>
<g stroke="#62b068" stroke-width="0.75" fill="none">
<rect x="179.40" y="209.30" width="115.20" height="86.70" stroke-dasharray="7.4 1.8"/>
<rect x="181.30" y="211.20" width="111.40" height="82.90" stroke-dasharray="7.4 1.8" stroke-dashoffset="3"/>
<g clip-path="url(#hc)" stroke-dasharray="9 2">
<line x1="59.50" y1="154.10" x2="319.50" y2="393.30" stroke-dashoffset="0.0"/>
<line x1="73.30" y1="154.10" x2="333.30" y2="393.30" stroke-dashoffset="3.0"/>
<line x1="87.10" y1="154.10" x2="347.10" y2="393.30" stroke-dashoffset="6.0"/>
<line x1="100.90" y1="154.10" x2="360.90" y2="393.30" stroke-dashoffset="0.0"/>
<line x1="114.70" y1="154.10" x2="374.70" y2="393.30" stroke-dashoffset="3.0"/>
<line x1="128.50" y1="154.10" x2="388.50" y2="393.30" stroke-dashoffset="6.0"/>
<line x1="142.30" y1="154.10" x2="402.30" y2="393.30" stroke-dashoffset="0.0"/>
<line x1="156.10" y1="154.10" x2="416.10" y2="393.30" stroke-dashoffset="3.0"/>
<line x1="169.90" y1="154.10" x2="429.90" y2="393.30" stroke-dashoffset="6.0"/>
<line x1="183.70" y1="154.10" x2="443.70" y2="393.30" stroke-dashoffset="0.0"/>
<line x1="197.50" y1="154.10" x2="457.50" y2="393.30" stroke-dashoffset="3.0"/>
<line x1="211.30" y1="154.10" x2="471.30" y2="393.30" stroke-dashoffset="6.0"/>
<line x1="225.10" y1="154.10" x2="485.10" y2="393.30" stroke-dashoffset="0.0"/>
<line x1="238.90" y1="154.10" x2="498.90" y2="393.30" stroke-dashoffset="3.0"/>
<line x1="252.70" y1="154.10" x2="512.70" y2="393.30" stroke-dashoffset="6.0"/>
<line x1="266.50" y1="154.10" x2="526.50" y2="393.30" stroke-dashoffset="0.0"/>
<line x1="280.30" y1="154.10" x2="540.30" y2="393.30" stroke-dashoffset="3.0"/>
<line x1="294.10" y1="154.10" x2="554.10" y2="393.30" stroke-dashoffset="6.0"/>
<line x1="307.90" y1="154.10" x2="567.90" y2="393.30" stroke-dashoffset="0.0"/>
<line x1="321.70" y1="154.10" x2="581.70" y2="393.30" stroke-dashoffset="3.0"/>
<line x1="335.50" y1="154.10" x2="595.50" y2="393.30" stroke-dashoffset="6.0"/>
<line x1="349.30" y1="154.10" x2="609.30" y2="393.30" stroke-dashoffset="0.0"/>
</g></g>
<rect x="139.70" y="198.40" width="15.70" height="37.40" fill="url(#gv)" stroke="#222" stroke-width="0.55" rx="0.00" />
<line x1="142.20" y1="198.60" x2="142.20" y2="234.60" stroke="#8a8a8a" stroke-width="0.40" />
<line x1="144.20" y1="198.60" x2="144.20" y2="234.60" stroke="#8a8a8a" stroke-width="0.40" />
<line x1="150.80" y1="198.60" x2="150.80" y2="234.60" stroke="#8a8a8a" stroke-width="0.40" />
<line x1="152.80" y1="198.60" x2="152.80" y2="234.60" stroke="#8a8a8a" stroke-width="0.40" />
<rect x="139.70" y="235.80" width="15.70" height="50.80" fill="#e4e5e6" stroke="#222" stroke-width="0.70" rx="0.00" />
<rect x="141.50" y="237.20" width="11.60" height="48.80" fill="#e8e9ea" stroke="#555" stroke-width="0.45" rx="0.00" />
<rect x="155.40" y="277.20" width="10.10" height="9.30" fill="#e2e3e4" stroke="#444" stroke-width="0.50" rx="0.00" />
<line x1="155.40" y1="277.60" x2="165.50" y2="277.60" stroke="#222" stroke-width="1.00" />
<rect x="157.20" y="279.40" width="6.60" height="7.00" fill="#ececed" stroke="#666" stroke-width="0.40" rx="0.00" />
<rect x="165.50" y="191.60" width="14.00" height="95.00" fill="url(#gy)" stroke="#222" stroke-width="0.60" rx="1.20" />
<path d="M165.5 196.6 v-3.4 q0 -1.6 1.6 -1.6 h10.8 q1.6 0 1.6 1.6 v3.4 z" fill="#d8d9da" stroke="#222" stroke-width="0.8"/>
<path d="M167 196.4 l1.2 -3.2 h8.6 l1.2 3.2" fill="none" stroke="#444" stroke-width="0.4"/>
<line x1="168.00" y1="196.60" x2="168.00" y2="286.50" stroke="#888" stroke-width="0.40" />
<line x1="170.30" y1="196.60" x2="170.30" y2="286.50" stroke="#555" stroke-width="0.40" />
<line x1="172.00" y1="196.60" x2="172.00" y2="286.50" stroke="#555" stroke-width="0.40" />
<line x1="174.60" y1="196.60" x2="174.60" y2="286.50" stroke="#888" stroke-width="0.40" />
<line x1="177.80" y1="196.60" x2="177.80" y2="286.50" stroke="#555" stroke-width="0.40" />
<line x1="165.50" y1="213.60" x2="172.00" y2="213.60" stroke="#444" stroke-width="0.50" />
<line x1="168.50" y1="215.20" x2="174.00" y2="215.20" stroke="#444" stroke-width="0.50" />
<rect x="140.40" y="286.40" width="39.40" height="17.40" fill="#e6e7e8" stroke="#222" stroke-width="0.70" rx="0.00" />
<line x1="140.40" y1="295.20" x2="176.00" y2="295.20" stroke="#666" stroke-width="0.40" />
<line x1="140.40" y1="287.40" x2="179.80" y2="287.40" stroke="#777" stroke-width="0.40" />
<rect x="176.20" y="288.20" width="3.60" height="15.20" fill="#f2f2f2" stroke="#444" stroke-width="0.40" rx="0.00" />
<rect x="176.8" y="290.4" width="1" height="1" fill="#333"/>
<rect x="176.8" y="294.2" width="1" height="1" fill="#333"/>
<rect x="176.8" y="298.4" width="1" height="1" fill="#333"/>
<rect x="176.8" y="301.4" width="1" height="1" fill="#333"/>
<rect x="140.40" y="303.80" width="39.40" height="61.20" fill="url(#gy)" stroke="#222" stroke-width="0.55" rx="0.00" />
<line x1="143.80" y1="304.00" x2="143.80" y2="364.80" stroke="#777" stroke-width="0.40" />
<line x1="145.60" y1="304.00" x2="145.60" y2="364.80" stroke="#aaa" stroke-width="0.40" />
<line x1="149.20" y1="304.00" x2="149.20" y2="364.80" stroke="#777" stroke-width="0.40" />
<line x1="151.00" y1="304.00" x2="151.00" y2="364.80" stroke="#aaa" stroke-width="0.40" />
<line x1="154.20" y1="304.00" x2="154.20" y2="364.80" stroke="#555" stroke-width="0.40" />
<line x1="157.00" y1="304.00" x2="157.00" y2="364.80" stroke="#555" stroke-width="0.40" />
<line x1="160.00" y1="304.00" x2="160.00" y2="364.80" stroke="#aaa" stroke-width="0.40" />
<line x1="165.40" y1="304.00" x2="165.40" y2="364.80" stroke="#777" stroke-width="0.40" />
<line x1="167.40" y1="304.00" x2="167.40" y2="364.80" stroke="#aaa" stroke-width="0.40" />
<line x1="170.80" y1="304.00" x2="170.80" y2="364.80" stroke="#777" stroke-width="0.40" />
<line x1="173.80" y1="304.00" x2="173.80" y2="364.80" stroke="#777" stroke-width="0.40" />
<line x1="177.00" y1="304.00" x2="177.00" y2="364.80" stroke="#777" stroke-width="0.40" />
<path d="M140.4 318.3 H117.6 q-2 0 -2 2 V341 q0 2.6 2 3.2 H140.4 z" fill="url(#gh)" stroke="#222" stroke-width="0.7"/>
<line x1="120.20" y1="318.50" x2="120.20" y2="344.00" stroke="#444" stroke-width="0.50" />
<line x1="116.40" y1="319.60" x2="116.40" y2="343.00" stroke="#777" stroke-width="0.40" />
<line x1="120.20" y1="320.40" x2="140.40" y2="320.40" stroke="#888" stroke-width="0.40" />
<line x1="120.20" y1="341.60" x2="140.40" y2="341.60" stroke="#888" stroke-width="0.40" />
<rect x="120.8" y="324.6" width="1.2" height="1" fill="#333"/><rect x="120.8" y="336.4" width="1.2" height="1" fill="#333"/>
<path d="M179.8 318.3 H298.6 q2.3 0 2.3 2.3 V341.6 q0 2.6 -2.3 2.6 H179.8 z" fill="url(#gh)" stroke="#222" stroke-width="0.7"/>
<line x1="179.80" y1="320.40" x2="294.00" y2="320.40" stroke="#888" stroke-width="0.40" />
<line x1="179.80" y1="341.60" x2="294.00" y2="341.60" stroke="#666" stroke-width="0.50" />
<line x1="179.80" y1="343.20" x2="294.00" y2="343.20" stroke="#888" stroke-width="0.40" />
<line x1="294.20" y1="318.50" x2="294.20" y2="344.20" stroke="#333" stroke-width="0.55" />
<line x1="296.40" y1="319.60" x2="296.40" y2="343.20" stroke="#555" stroke-width="0.45" />
<rect x="294.8" y="323.6" width="1.1" height="1.1" fill="#222"/>
<rect x="294.8" y="326.2" width="1.1" height="1.1" fill="#222"/>
<rect x="294.8" y="334.6" width="1.1" height="1.1" fill="#222"/>
<rect x="294.8" y="337.4" width="1.1" height="1.1" fill="#222"/>
<path d="M276.6 318.2 l0.6 -1.6 h1.8 l0.6 1.6 z" fill="#999" stroke="#333" stroke-width="0.4"/>
<rect x="120.30" y="344.80" width="20.10" height="20.40" fill="#e4e5e6" stroke="#222" stroke-width="0.55" rx="0.00" />
<rect x="179.80" y="344.80" width="115.80" height="20.60" fill="#e0e1e2" stroke="#222" stroke-width="0.55" rx="0.00" />
<rect x="179.80" y="346.40" width="58.80" height="17.60" fill="#e8e9ea" stroke="#444" stroke-width="0.50" rx="0.00" />
<line x1="238.60" y1="347.40" x2="295.40" y2="347.40" stroke="#8c8c8c" stroke-width="0.55" />
<line x1="238.60" y1="350.00" x2="295.40" y2="350.00" stroke="#8c8c8c" stroke-width="0.55" />
<line x1="238.60" y1="352.60" x2="295.40" y2="352.60" stroke="#8c8c8c" stroke-width="0.55" />
<line x1="238.60" y1="355.40" x2="295.40" y2="355.40" stroke="#8c8c8c" stroke-width="0.55" />
<line x1="238.60" y1="358.20" x2="295.40" y2="358.20" stroke="#8c8c8c" stroke-width="0.55" />
<line x1="238.60" y1="361.00" x2="295.40" y2="361.00" stroke="#8c8c8c" stroke-width="0.55" />
<line x1="238.60" y1="363.40" x2="295.40" y2="363.40" stroke="#8c8c8c" stroke-width="0.55" />
<line x1="120.30" y1="365.20" x2="295.60" y2="365.20" stroke="#222" stroke-width="0.90" />
<rect x="123.20" y="346.60" width="8.20" height="17.00" fill="#ececed" stroke="#555" stroke-width="0.45" rx="0.00" />
<rect x="151.60" y="346.60" width="7.60" height="17.00" fill="#ececed" stroke="#555" stroke-width="0.45" rx="0.00" />
<circle cx="125.2" cy="348.8" r="0.75" fill="none" stroke="#444" stroke-width="0.4"/>
<circle cx="129.2" cy="348.8" r="0.75" fill="none" stroke="#444" stroke-width="0.4"/>
<circle cx="125.2" cy="361.2" r="0.75" fill="none" stroke="#444" stroke-width="0.4"/>
<circle cx="129.2" cy="361.2" r="0.75" fill="none" stroke="#444" stroke-width="0.4"/>
<circle cx="153.4" cy="348.8" r="0.75" fill="none" stroke="#444" stroke-width="0.4"/>
<circle cx="157.2" cy="348.8" r="0.75" fill="none" stroke="#444" stroke-width="0.4"/>
<circle cx="153.4" cy="361.2" r="0.75" fill="none" stroke="#444" stroke-width="0.4"/>
<circle cx="157.2" cy="361.2" r="0.75" fill="none" stroke="#444" stroke-width="0.4"/>
<rect x="166.00" y="339.60" width="4.60" height="4.00" fill="#f4f4f4" stroke="#444" stroke-width="0.40" rx="0.00" />
<path d="M170.6 340.4 h7.6 l0.8 1.8 l-0.8 2 h-7.6 z" fill="#ececec" stroke="#444" stroke-width="0.4"/>
<line x1="154.40" y1="344.60" x2="166.00" y2="344.60" stroke="#222" stroke-width="0.90" />
<g stroke="#222" stroke-width="0.5" fill="#b9b9b9"><rect x="105.6" y="325.6" width="3" height="6.6" rx="0.8"/><rect x="108.6" y="326.4" width="4.6" height="5.2" rx="0.6" fill="#888"/><rect x="113.2" y="327.4" width="2.4" height="3.4" fill="#ddd"/><rect x="106.4" y="324.6" width="3.2" height="1.2" fill="#555"/></g>
<line x1="103.00" y1="331.20" x2="305.00" y2="331.20" stroke="#777" stroke-width="0.45" stroke-dasharray="9 2.2 2.2 2.2"/>
<line x1="81.50" y1="191.60" x2="81.50" y2="365.20" stroke="#4a4a4a" stroke-width="0.40" />
<polygon points="81.50,191.60 82.05,194.20 80.95,194.20" fill="#4a4a4a"/>
<polygon points="81.50,365.20 80.95,362.60 82.05,362.60" fill="#4a4a4a"/>
<line x1="97.70" y1="191.60" x2="97.70" y2="365.20" stroke="#4a4a4a" stroke-width="0.40" />
<polygon points="97.70,191.60 98.25,194.20 97.15,194.20" fill="#4a4a4a"/>
<polygon points="97.70,209.80 97.15,207.20 98.25,207.20" fill="#4a4a4a"/>
<polygon points="97.70,209.80 98.25,212.40 97.15,212.40" fill="#4a4a4a"/>
<polygon points="97.70,294.60 97.15,292.00 98.25,292.00" fill="#4a4a4a"/>
<polygon points="97.70,294.60 98.25,297.20 97.15,297.20" fill="#4a4a4a"/>
<polygon points="97.70,331.20 97.15,328.60 98.25,328.60" fill="#4a4a4a"/>
<polygon points="97.70,331.20 98.25,333.80 97.15,333.80" fill="#4a4a4a"/>
<polygon points="97.70,365.20 97.15,362.60 98.25,362.60" fill="#4a4a4a"/>
<line x1="80.00" y1="191.60" x2="166.00" y2="191.60" stroke="#4a4a4a" stroke-width="0.40" />
<line x1="96.40" y1="209.80" x2="180.00" y2="209.80" stroke="#4a4a4a" stroke-width="0.40" />
<line x1="96.40" y1="294.60" x2="140.40" y2="294.60" stroke="#4a4a4a" stroke-width="0.40" />
<line x1="96.40" y1="331.20" x2="104.00" y2="331.20" stroke="#4a4a4a" stroke-width="0.40" />
<line x1="80.00" y1="365.20" x2="120.00" y2="365.20" stroke="#4a4a4a" stroke-width="0.40" />
<text font-size="6.30" fill="#3a3a3a" text-anchor="middle" transform="translate(76.90 281.00) rotate(-90)" y="2.27">H (Y Stroke+476)</text>
<text font-size="6.30" fill="#3a3a3a" text-anchor="middle" transform="translate(92.30 200.80) rotate(-90)" y="2.27">101.5</text>
<text font-size="6.30" fill="#3a3a3a" text-anchor="middle" transform="translate(92.30 252.60) rotate(-90)" y="2.27">Y Stroke</text>
<text font-size="6.30" fill="#3a3a3a" text-anchor="middle" transform="translate(92.30 312.80) rotate(-90)" y="2.27">190</text>
<text font-size="6.30" fill="#3a3a3a" text-anchor="middle" transform="translate(92.30 347.80) rotate(-90)" y="2.27">184.5</text>
<line x1="115.60" y1="344.00" x2="115.60" y2="394.00" stroke="#4a4a4a" stroke-width="0.40" />
<line x1="180.20" y1="365.50" x2="180.20" y2="383.00" stroke="#4a4a4a" stroke-width="0.40" />
<line x1="294.20" y1="296.00" x2="294.20" y2="318.00" stroke="#4a4a4a" stroke-width="0.40" />
<line x1="294.20" y1="344.50" x2="294.20" y2="383.00" stroke="#4a4a4a" stroke-width="0.40" />
<line x1="300.90" y1="344.50" x2="300.90" y2="394.00" stroke="#4a4a4a" stroke-width="0.40" />
<line x1="115.60" y1="381.20" x2="322.00" y2="381.20" stroke="#4a4a4a" stroke-width="0.40" />
<polygon points="115.60,381.20 118.20,380.65 118.20,381.75" fill="#4a4a4a"/>
<polygon points="180.20,381.20 177.60,381.75 177.60,380.65" fill="#4a4a4a"/>
<polygon points="180.20,381.20 182.80,380.65 182.80,381.75" fill="#4a4a4a"/>
<polygon points="294.20,381.20 291.60,381.75 291.60,380.65" fill="#4a4a4a"/>
<polygon points="294.20,381.20 291.60,381.75 291.60,380.65" fill="#4a4a4a"/>
<polygon points="300.90,381.20 303.50,380.65 303.50,381.75" fill="#4a4a4a"/>
<line x1="115.60" y1="392.40" x2="300.90" y2="392.40" stroke="#4a4a4a" stroke-width="0.40" />
<polygon points="115.60,392.40 118.20,391.85 118.20,392.95" fill="#4a4a4a"/>
<polygon points="300.90,392.40 298.30,392.95 298.30,391.85" fill="#4a4a4a"/>
<text x="147.20" y="379.57" font-size="6.30" fill="#3a3a3a" text-anchor="middle" >348.5</text>
<text x="236.40" y="379.67" font-size="6.30" fill="#3a3a3a" text-anchor="middle" >X Stroke</text>
<text x="312.60" y="379.67" font-size="6.30" fill="#3a3a3a" text-anchor="middle" >41.5</text>
<text x="207.40" y="390.87" font-size="6.30" fill="#3a3a3a" text-anchor="middle" >L (X Stroke+390)</text>
<line x1="293.00" y1="199.60" x2="293.00" y2="211.00" stroke="#4a4a4a" stroke-width="0.40" />
<line x1="295.00" y1="199.60" x2="295.00" y2="211.00" stroke="#4a4a4a" stroke-width="0.40" />
<line x1="288.60" y1="200.80" x2="299.40" y2="200.80" stroke="#4a4a4a" stroke-width="0.40" />
<polygon points="293.00,200.80 290.80,201.30 290.80,200.30" fill="#4a4a4a"/>
<polygon points="295.00,200.80 297.20,200.30 297.20,201.30" fill="#4a4a4a"/>
<text x="294.20" y="199.07" font-size="6.30" fill="#3a3a3a" text-anchor="middle" >10</text>
<line x1="295.00" y1="208.60" x2="307.60" y2="208.60" stroke="#4a4a4a" stroke-width="0.40" />
<line x1="295.00" y1="210.60" x2="307.60" y2="210.60" stroke="#4a4a4a" stroke-width="0.40" />
<line x1="306.20" y1="201.40" x2="306.20" y2="216.00" stroke="#4a4a4a" stroke-width="0.40" />
<line x1="306.20" y1="201.40" x2="313.40" y2="201.40" stroke="#4a4a4a" stroke-width="0.40" />
<polygon points="306.20,208.60 305.70,206.40 306.70,206.40" fill="#4a4a4a"/>
<polygon points="306.20,210.60 306.70,212.80 305.70,212.80" fill="#4a4a4a"/>
<text x="309.40" y="199.87" font-size="6.30" fill="#3a3a3a" text-anchor="middle" >10</text>
<text x="259.20" y="189.70" font-size="6.40" fill="#e8212b" text-anchor="middle" >※1</text>
<line x1="254.20" y1="192.20" x2="264.60" y2="192.20" stroke="#4a4a4a" stroke-width="0.40" />
<line x1="254.20" y1="192.20" x2="246.60" y2="208.60" stroke="#4a4a4a" stroke-width="0.40" />
<polygon points="246.40,209.00 246.87,206.57 247.96,207.08" fill="#4a4a4a"/>
<path d="M117 440.9 H298.4 q2.2 0 2.2 2.2 V453 q0 2.2 -2.2 2.2 H117 q-2.1 0 -2.1 -2.2 V443.1 q0 -2.2 2.1 -2.2 z" fill="url(#gh)" stroke="#222" stroke-width="0.7"/>
<line x1="119.60" y1="442.80" x2="294.00" y2="442.80" stroke="#999" stroke-width="0.40" />
<line x1="119.60" y1="453.20" x2="294.00" y2="453.20" stroke="#777" stroke-width="0.45" />
<rect x="119.6" y="446.4" width="108" height="4.2" fill="#f3f3f4"/>
<line x1="119.60" y1="446.40" x2="224.40" y2="446.40" stroke="#9a9a9a" stroke-width="0.40" />
<line x1="119.60" y1="450.60" x2="294.00" y2="450.60" stroke="#9a9a9a" stroke-width="0.45" />
<line x1="119.40" y1="441.20" x2="119.40" y2="455.00" stroke="#444" stroke-width="0.45" />
<line x1="294.60" y1="441.20" x2="294.60" y2="455.00" stroke="#444" stroke-width="0.45" />
<path d="M295 441.8 q4.6 5.8 0 12.8" fill="none" stroke="#555" stroke-width="0.45"/>
<line x1="121.00" y1="452.40" x2="131.00" y2="447.60" stroke="#555" stroke-width="0.40" />
<circle cx="134.6" cy="448.6" r="1.5" fill="#eee" stroke="#555" stroke-width="0.4"/>
<g stroke="#222" stroke-width="0.45" fill="#999"><rect x="106" y="451.6" width="3" height="3.6" rx="0.6"/><rect x="109" y="452" width="4" height="2.8" fill="#666"/><rect x="113" y="452.4" width="2" height="2" fill="#ccc"/></g>
<rect x="141.40" y="405.00" width="33.80" height="24.00" fill="#e4e5e6" stroke="#222" stroke-width="0.70" rx="0.00" />
<line x1="141.20" y1="405.40" x2="175.40" y2="405.40" stroke="#222" stroke-width="1.10" />
<rect x="143.00" y="407.40" width="8.60" height="4.60" fill="#f0f0f0" stroke="#555" stroke-width="0.40" rx="0.00" />
<rect x="143.00" y="413.40" width="8.60" height="14.00" fill="#ebebec" stroke="#777" stroke-width="0.40" rx="0.00" />
<line x1="153.40" y1="406.00" x2="153.40" y2="429.00" stroke="#666" stroke-width="0.40" />
<line x1="155.20" y1="414.00" x2="155.20" y2="429.00" stroke="#888" stroke-width="0.40" />
<rect x="165.40" y="408.60" width="9.40" height="18.00" fill="#f4f4f5" stroke="#444" stroke-width="0.45" rx="0.00" />
<line x1="167.20" y1="410.00" x2="167.20" y2="426.00" stroke="#666" stroke-width="0.40" />
<line x1="169.40" y1="410.00" x2="169.40" y2="426.00" stroke="#888" stroke-width="0.40" />
<rect x="171.40" y="417.60" width="3.20" height="5.60" fill="#fff" stroke="#333" stroke-width="0.40" rx="0.00" />
<path d="M175.2 407.4 h3.6 l1.8 2.6 v13.4 h-5.4" fill="#ececec" stroke="#333" stroke-width="0.5"/>
<path d="M176.4 408.8 l3.6 -1.2 M176.4 410.8 l3.6 1.4" fill="none" stroke="#333" stroke-width="0.5"/>
<path d="M140.4 429.2 h11 v2 h-1.6 v3 h-8.6 l-0.8 -1.2 z" fill="#555" stroke="#222" stroke-width="0.5"/>
<path d="M141.8 432.2 h1.4 v1.6 h1.4 v-1.6 h1.4 v1.6 h1.4 v-1.6 h1.4" fill="none" stroke="#eee" stroke-width="0.5"/>
<path d="M166 431.4 h14 l-0.8 3.6 h-12.4 z" fill="#666" stroke="#222" stroke-width="0.5"/>
<path d="M167.4 433.6 h10.6" fill="none" stroke="#eee" stroke-width="0.5" stroke-dasharray="1.4 1"/>
<rect x="155.80" y="431.00" width="9.40" height="7.20" fill="#e9e9ea" stroke="#333" stroke-width="0.50" rx="0.00" />
<line x1="155.80" y1="433.60" x2="165.20" y2="433.60" stroke="#666" stroke-width="0.40" />
<rect x="151.20" y="438.20" width="25.00" height="7.40" fill="#e6e7e8" stroke="#333" stroke-width="0.55" rx="0.00" />
<line x1="151.20" y1="440.90" x2="176.20" y2="440.90" stroke="#555" stroke-width="0.45" />
<circle cx="159.6" cy="443.6" r="0.4" fill="#333"/><circle cx="168.6" cy="443.6" r="0.4" fill="#333"/>
<path d="M159.4 428.8 L162.2 424.2 Q162.8 423.4 164 423.4 L180 423.0 L226 425.6 C234.6 426.4 239 431.4 239 438.2 C239 445.4 234.6 450.4 227.6 450.6 L224 450.6 L224 446.4 C229.4 446.2 231.6 443.2 231.6 439 C231.6 434.6 229.4 432 224 431.8 L176 429.8 L160.6 431.2 Z" fill="#f1f1f2" stroke="#333" stroke-width="0.6"/>
<path d="M180 423.0 L226 425.6 C234.6 426.4 239 431.4 239 438.2" fill="none" stroke="#222" stroke-width="0.8"/>
<rect x="223" y="446.7" width="2" height="3.6" fill="#f1f1f2"/>
<circle cx="162.9" cy="427.3" r="1.9" fill="#fafafa" stroke="#333" stroke-width="0.45"/><circle cx="162.9" cy="427.3" r="0.7" fill="none" stroke="#444" stroke-width="0.35"/>
<circle cx="156.6" cy="411.2" r="2.9" fill="none" stroke="#f39a1f" stroke-width="0.8"/>
<text x="131.60" y="420.43" font-size="6.20" fill="#f39a1f" text-anchor="middle" >C</text>
<path d="M127.6 422.2 h5.6 q2.4 0 4.4 -1.4 L154 412.8" fill="none" stroke="#555" stroke-width="0.4"/>
<line x1="99.00" y1="440.90" x2="99.00" y2="455.20" stroke="#4a4a4a" stroke-width="0.40" />
<polygon points="99.00,440.90 99.55,443.50 98.45,443.50" fill="#4a4a4a"/>
<polygon points="99.00,455.20 98.45,452.60 99.55,452.60" fill="#4a4a4a"/>
<line x1="97.60" y1="440.90" x2="115.00" y2="440.90" stroke="#4a4a4a" stroke-width="0.40" />
<line x1="97.60" y1="455.20" x2="107.00" y2="455.20" stroke="#4a4a4a" stroke-width="0.40" />
<text font-size="6.30" fill="#3a3a3a" text-anchor="middle" transform="translate(93.40 447.80) rotate(-90)" y="2.27">78</text>
<line x1="181.00" y1="423.00" x2="317.00" y2="423.00" stroke="#4a4a4a" stroke-width="0.40" />
<line x1="301.00" y1="455.20" x2="317.00" y2="455.20" stroke="#4a4a4a" stroke-width="0.40" />
<line x1="315.70" y1="423.00" x2="315.70" y2="455.20" stroke="#4a4a4a" stroke-width="0.40" />
<polygon points="315.70,423.00 316.25,425.60 315.15,425.60" fill="#4a4a4a"/>
<polygon points="315.70,455.20 315.15,452.60 316.25,452.60" fill="#4a4a4a"/>
<text font-size="6.30" fill="#3a3a3a" text-anchor="middle" transform="translate(309.80 438.80) rotate(-90)" y="2.27">169</text>
<path d="M113.5 500.5 H293.8 q2.6 0 2.6 2.6 V523.7 q0 2.6 -2.6 2.6 H113.5 q-3 0 -3 -3 V503.5 q0 -3 3 -3 z" fill="url(#gh)" stroke="#222" stroke-width="0.8"/>
<line x1="111.00" y1="503.00" x2="296.00" y2="503.00" stroke="#9a9a9a" stroke-width="0.40" />
<line x1="111.00" y1="523.80" x2="296.00" y2="523.80" stroke="#9a9a9a" stroke-width="0.40" />
<line x1="112.00" y1="506.60" x2="295.00" y2="506.60" stroke="#c2c2c2" stroke-width="0.40" />
<line x1="112.00" y1="520.20" x2="295.00" y2="520.20" stroke="#c2c2c2" stroke-width="0.40" />
<line x1="112.00" y1="510.40" x2="295.00" y2="510.40" stroke="#b5b5b5" stroke-width="0.40" />
<line x1="112.00" y1="516.40" x2="295.00" y2="516.40" stroke="#b5b5b5" stroke-width="0.40" />
<line x1="108.00" y1="513.40" x2="298.00" y2="513.40" stroke="#8a8a8a" stroke-width="0.50" stroke-dasharray="9 2.4 4 2.4"/>
<path d="M111 504.4 h2.6 v-3.6 M111 522.4 h2.6 v3.6 M296 504.4 h-5 q-1.4 -0.4 -1.4 -2 v-1.6 M296 522.4 h-5 q-1.4 0.4 -1.4 2 v1.6" fill="none" stroke="#555" stroke-width="0.4"/>
<rect x="140.2" y="503.4" width="2" height="1" fill="none" stroke="#666" stroke-width="0.35"/>
<rect x="214.4" y="503.4" width="2" height="1" fill="none" stroke="#666" stroke-width="0.35"/>
<rect x="252.6" y="503.4" width="2" height="1" fill="none" stroke="#666" stroke-width="0.35"/>
<rect x="281.0" y="503.4" width="2" height="1" fill="none" stroke="#666" stroke-width="0.35"/>
<rect x="139.2" y="522.6" width="2" height="1" fill="none" stroke="#666" stroke-width="0.35"/>
<rect x="176.6" y="522.6" width="2" height="1" fill="none" stroke="#666" stroke-width="0.35"/>
<rect x="251.8" y="522.6" width="2" height="1" fill="none" stroke="#666" stroke-width="0.35"/>
<rect x="279.8" y="522.6" width="2" height="1" fill="none" stroke="#666" stroke-width="0.35"/>
<g stroke="#222" stroke-width="0.5" fill="#aaa"><rect x="100.6" y="510.6" width="3.2" height="7" rx="1"/><rect x="103.8" y="511.6" width="4.4" height="5" rx="0.6" fill="#777"/><rect x="108.2" y="512.4" width="2.4" height="3.2" fill="#ddd"/><rect x="101.6" y="509.6" width="3" height="1.2" fill="#555"/></g>
<line x1="110.50" y1="479.00" x2="110.50" y2="500.00" stroke="#4a4a4a" stroke-width="0.40" />
<line x1="141.70" y1="479.00" x2="141.70" y2="503.60" stroke="#4a4a4a" stroke-width="0.40" />
<line x1="254.30" y1="479.00" x2="254.30" y2="503.60" stroke="#4a4a4a" stroke-width="0.40" />
<line x1="282.50" y1="479.00" x2="282.50" y2="503.60" stroke="#4a4a4a" stroke-width="0.40" />
<line x1="296.30" y1="479.00" x2="296.30" y2="503.00" stroke="#4a4a4a" stroke-width="0.40" />
<line x1="110.50" y1="480.50" x2="296.30" y2="480.50" stroke="#4a4a4a" stroke-width="0.40" />
<polygon points="141.70,480.50 139.10,481.05 139.10,479.95" fill="#4a4a4a"/>
<polygon points="141.70,480.50 144.30,479.95 144.30,481.05" fill="#4a4a4a"/>
<polygon points="254.30,480.50 251.70,481.05 251.70,479.95" fill="#4a4a4a"/>
<polygon points="254.30,480.50 256.90,479.95 256.90,481.05" fill="#4a4a4a"/>
<polygon points="282.50,480.50 279.90,481.05 279.90,479.95" fill="#4a4a4a"/>
<polygon points="282.50,480.50 285.10,479.95 285.10,481.05" fill="#4a4a4a"/>
<polygon points="110.50,480.50 113.10,479.95 113.10,481.05" fill="#4a4a4a"/>
<polygon points="296.30,480.50 293.70,481.05 293.70,479.95" fill="#4a4a4a"/>
<text x="126.00" y="478.47" font-size="6.30" fill="#3a3a3a" text-anchor="middle" >168.5</text>
<text x="198.00" y="478.47" font-size="6.30" fill="#3a3a3a" text-anchor="middle" >M*200</text>
<text x="268.50" y="478.47" font-size="6.30" fill="#3a3a3a" text-anchor="middle" >A</text>
<text x="289.80" y="478.47" font-size="6.30" fill="#3a3a3a" text-anchor="middle" >71.5</text>
<line x1="110.50" y1="527.00" x2="110.50" y2="543.00" stroke="#4a4a4a" stroke-width="0.40" />
<line x1="140.00" y1="523.00" x2="140.00" y2="543.00" stroke="#4a4a4a" stroke-width="0.40" />
<line x1="252.80" y1="523.00" x2="252.80" y2="543.00" stroke="#4a4a4a" stroke-width="0.40" />
<line x1="280.80" y1="523.00" x2="280.80" y2="543.00" stroke="#4a4a4a" stroke-width="0.40" />
<line x1="296.30" y1="527.00" x2="296.30" y2="543.00" stroke="#4a4a4a" stroke-width="0.40" />
<line x1="110.50" y1="541.40" x2="296.30" y2="541.40" stroke="#4a4a4a" stroke-width="0.40" />
<polygon points="140.00,541.40 137.40,541.95 137.40,540.85" fill="#4a4a4a"/>
<polygon points="140.00,541.40 142.60,540.85 142.60,541.95" fill="#4a4a4a"/>
<polygon points="252.80,541.40 250.20,541.95 250.20,540.85" fill="#4a4a4a"/>
<polygon points="252.80,541.40 255.40,540.85 255.40,541.95" fill="#4a4a4a"/>
<polygon points="280.80,541.40 278.20,541.95 278.20,540.85" fill="#4a4a4a"/>
<polygon points="280.80,541.40 283.40,540.85 283.40,541.95" fill="#4a4a4a"/>
<polygon points="110.50,541.40 113.10,540.85 113.10,541.95" fill="#4a4a4a"/>
<polygon points="296.30,541.40 293.70,541.95 293.70,540.85" fill="#4a4a4a"/>
<text x="125.00" y="539.27" font-size="6.30" fill="#3a3a3a" text-anchor="middle" >158.5</text>
<text x="196.00" y="539.27" font-size="6.30" fill="#3a3a3a" text-anchor="middle" >M*200</text>
<text x="267.20" y="539.27" font-size="6.30" fill="#3a3a3a" text-anchor="middle" >A</text>
<text x="288.40" y="539.27" font-size="6.30" fill="#3a3a3a" text-anchor="middle" >81.5</text>
<text x="192.40" y="494.07" font-size="6.30" fill="#3a3a3a" text-anchor="start">N-M6<tspan font-size="4.91" dy="-0.5">&#9661;</tspan><tspan dy="0.5">10</tspan></text>
<line x1="191.20" y1="495.50" x2="221.60" y2="495.50" stroke="#4a4a4a" stroke-width="0.40" />
<line x1="191.20" y1="495.50" x2="176.60" y2="505.40" stroke="#4a4a4a" stroke-width="0.40" />
<polygon points="176.00,505.90 177.63,504.04 178.31,505.02" fill="#4a4a4a"/>
<text x="234.40" y="533.07" font-size="6.30" fill="#3a3a3a" text-anchor="middle" >N-Ø7</text>
<line x1="227.00" y1="535.40" x2="242.60" y2="535.40" stroke="#4a4a4a" stroke-width="0.40" />
<line x1="227.00" y1="535.40" x2="212.40" y2="520.80" stroke="#4a4a4a" stroke-width="0.40" />
<polygon points="211.80,520.30 213.92,521.57 213.07,522.42" fill="#4a4a4a"/>
<line x1="296.50" y1="503.70" x2="311.00" y2="503.70" stroke="#4a4a4a" stroke-width="0.40" />
<line x1="296.50" y1="522.90" x2="311.00" y2="522.90" stroke="#4a4a4a" stroke-width="0.40" />
<line x1="296.50" y1="500.50" x2="322.00" y2="500.50" stroke="#4a4a4a" stroke-width="0.40" />
<line x1="296.50" y1="526.30" x2="322.00" y2="526.30" stroke="#4a4a4a" stroke-width="0.40" />
<line x1="309.20" y1="503.70" x2="309.20" y2="522.90" stroke="#4a4a4a" stroke-width="0.40" />
<polygon points="309.20,503.70 309.75,506.30 308.65,506.30" fill="#4a4a4a"/>
<polygon points="309.20,522.90 308.65,520.30 309.75,520.30" fill="#4a4a4a"/>
<line x1="320.00" y1="500.50" x2="320.00" y2="526.30" stroke="#4a4a4a" stroke-width="0.40" />
<polygon points="320.00,500.50 320.55,503.10 319.45,503.10" fill="#4a4a4a"/>
<polygon points="320.00,526.30 319.45,523.70 320.55,523.70" fill="#4a4a4a"/>
<text font-size="6.30" fill="#3a3a3a" text-anchor="middle" transform="translate(304.20 513.20) rotate(-90)" y="2.27">106</text>
<text font-size="6.30" fill="#3a3a3a" text-anchor="middle" transform="translate(315.40 513.20) rotate(-90)" y="2.27">135</text>
<text x="395.40" y="192.20" font-size="6.10" fill="#f39a1f" text-anchor="middle" letter-spacing="0.08">C-Cutaway View</text>
<text x="467.60" y="192.78" font-size="6.05" fill="#3a3a3a" text-anchor="middle" >X-Cable Chain</text>
<text x="536.60" y="193.38" font-size="6.05" fill="#3a3a3a" text-anchor="middle" >Y-Cable Chain</text>
<path d="M384.6 226.2 H405.6 L404.6 232.4 q-4.6 0.4 -5.2 4.6 q-0.2 4.4 -4.6 5.6 q-3 0.8 -4 3 H384.6 z" fill="#e6e7e8" stroke="none"/>
<path d="M384.6 245.4 V226.2 H405.6 M404.8 232.2 q-4.8 0.4 -5.4 4.8 q-0.2 4.2 -4.6 5.4 q-3 0.8 -4.2 3.2" fill="none" stroke="#222" stroke-width="0.7"/>
<path d="M388.4 226.4 V234 q0 2.6 2.4 2.6 q2.4 0 2.4 -2.6 V226.4" fill="#f2f2f2" stroke="#444" stroke-width="0.45"/>
<path d="M394.6 226.4 V234.4 q0 2.2 1.4 2.2" fill="none" stroke="#666" stroke-width="0.4"/>
<line x1="388.40" y1="212.60" x2="388.40" y2="226.00" stroke="#4a4a4a" stroke-width="0.40" />
<line x1="396.60" y1="212.60" x2="396.60" y2="226.00" stroke="#4a4a4a" stroke-width="0.40" />
<line x1="386.00" y1="214.40" x2="399.00" y2="214.40" stroke="#4a4a4a" stroke-width="0.40" />
<polygon points="388.40,214.40 390.60,213.90 390.60,214.90" fill="#4a4a4a"/>
<polygon points="396.60,214.40 394.40,214.90 394.40,213.90" fill="#4a4a4a"/>
<text x="392.80" y="208.47" font-size="6.30" fill="#3a3a3a" text-anchor="middle" >8.5</text>
<line x1="396.60" y1="216.00" x2="419.00" y2="216.00" stroke="#4a4a4a" stroke-width="0.40" />
<line x1="394.60" y1="216.00" x2="394.60" y2="226.00" stroke="#4a4a4a" stroke-width="0.40" />
<text x="411.40" y="214.47" font-size="6.30" fill="#3a3a3a" text-anchor="middle" >5.5</text>
<line x1="367.60" y1="226.20" x2="384.60" y2="226.20" stroke="#4a4a4a" stroke-width="0.40" />
<line x1="367.60" y1="236.40" x2="388.00" y2="236.40" stroke="#4a4a4a" stroke-width="0.40" />
<line x1="369.60" y1="226.20" x2="369.60" y2="236.40" stroke="#4a4a4a" stroke-width="0.40" />
<polygon points="369.60,226.20 370.15,228.80 369.05,228.80" fill="#4a4a4a"/>
<polygon points="369.60,236.40 369.05,233.80 370.15,233.80" fill="#4a4a4a"/>
<text font-size="6.30" fill="#3a3a3a" text-anchor="middle" transform="translate(364.20 231.20) rotate(-90)" y="2.27">11.2</text>
<line x1="377.20" y1="226.20" x2="377.20" y2="250.00" stroke="#4a4a4a" stroke-width="0.40" />
<line x1="375.60" y1="230.00" x2="385.00" y2="230.00" stroke="#4a4a4a" stroke-width="0.40" />
<line x1="375.60" y1="240.00" x2="391.00" y2="240.00" stroke="#4a4a4a" stroke-width="0.40" />
<polygon points="377.20,230.00 376.70,227.80 377.70,227.80" fill="#4a4a4a"/>
<polygon points="377.20,240.00 377.70,242.20 376.70,242.20" fill="#4a4a4a"/>
<line x1="364.80" y1="250.00" x2="377.20" y2="250.00" stroke="#4a4a4a" stroke-width="0.40" />
<text x="369.80" y="248.07" font-size="6.30" fill="#3a3a3a" text-anchor="middle" >7.2</text>
<rect x="460.20" y="216.40" width="19.00" height="7.40" fill="#d4d5d6" stroke="#222" stroke-width="0.90" rx="0.80" />
<line x1="462.00" y1="218.20" x2="477.40" y2="218.20" stroke="#999" stroke-width="0.40" />
<line x1="462.20" y1="208.40" x2="462.20" y2="216.00" stroke="#4a4a4a" stroke-width="0.40" />
<line x1="477.20" y1="208.40" x2="477.20" y2="216.00" stroke="#4a4a4a" stroke-width="0.40" />
<line x1="462.20" y1="209.60" x2="477.20" y2="209.60" stroke="#4a4a4a" stroke-width="0.40" />
<polygon points="462.20,209.60 464.80,209.05 464.80,210.15" fill="#4a4a4a"/>
<polygon points="477.20,209.60 474.60,210.15 474.60,209.05" fill="#4a4a4a"/>
<text x="469.60" y="207.47" font-size="6.30" fill="#3a3a3a" text-anchor="middle" >78</text>
<text x="490.40" y="206.87" font-size="6.30" fill="#3a3a3a" text-anchor="middle" >36</text>
<line x1="485.80" y1="208.60" x2="495.00" y2="208.60" stroke="#4a4a4a" stroke-width="0.40" />
<line x1="485.80" y1="208.60" x2="485.80" y2="227.00" stroke="#4a4a4a" stroke-width="0.40" />
<line x1="479.40" y1="216.40" x2="487.40" y2="216.40" stroke="#4a4a4a" stroke-width="0.40" />
<line x1="479.40" y1="223.80" x2="487.40" y2="223.80" stroke="#4a4a4a" stroke-width="0.40" />
<polygon points="485.80,216.40 485.30,214.20 486.30,214.20" fill="#4a4a4a"/>
<polygon points="485.80,223.80 486.30,226.00 485.30,226.00" fill="#4a4a4a"/>
<line x1="451.00" y1="216.40" x2="460.00" y2="216.40" stroke="#4a4a4a" stroke-width="0.40" />
<line x1="451.00" y1="223.80" x2="460.00" y2="223.80" stroke="#4a4a4a" stroke-width="0.40" />
<line x1="452.60" y1="213.00" x2="452.60" y2="227.40" stroke="#4a4a4a" stroke-width="0.40" />
<polygon points="452.60,216.40 452.10,214.20 453.10,214.20" fill="#4a4a4a"/>
<polygon points="452.60,223.80 453.10,226.00 452.10,226.00" fill="#4a4a4a"/>
<text font-size="6.30" fill="#3a3a3a" text-anchor="middle" transform="translate(447.20 220.20) rotate(-90)" y="2.27">25</text>
<line x1="460.20" y1="224.00" x2="460.20" y2="240.40" stroke="#4a4a4a" stroke-width="0.40" />
<line x1="479.20" y1="224.00" x2="479.20" y2="240.40" stroke="#4a4a4a" stroke-width="0.40" />
<line x1="460.20" y1="239.00" x2="479.20" y2="239.00" stroke="#4a4a4a" stroke-width="0.40" />
<polygon points="460.20,239.00 462.80,238.45 462.80,239.55" fill="#4a4a4a"/>
<polygon points="479.20,239.00 476.60,239.55 476.60,238.45" fill="#4a4a4a"/>
<text x="469.60" y="236.87" font-size="6.30" fill="#3a3a3a" text-anchor="middle" >98</text>
<rect x="532.40" y="218.40" width="11.60" height="6.40" fill="#d4d5d6" stroke="#222" stroke-width="0.90" rx="0.80" />
<line x1="533.80" y1="220.00" x2="542.60" y2="220.00" stroke="#999" stroke-width="0.40" />
<line x1="533.40" y1="208.80" x2="533.40" y2="218.00" stroke="#4a4a4a" stroke-width="0.40" />
<line x1="543.00" y1="208.80" x2="543.00" y2="218.00" stroke="#4a4a4a" stroke-width="0.40" />
<line x1="533.40" y1="210.20" x2="543.00" y2="210.20" stroke="#4a4a4a" stroke-width="0.40" />
<polygon points="533.40,210.20 536.00,209.65 536.00,210.75" fill="#4a4a4a"/>
<polygon points="543.00,210.20 540.40,210.75 540.40,209.65" fill="#4a4a4a"/>
<text x="538.40" y="208.07" font-size="6.30" fill="#3a3a3a" text-anchor="middle" >50</text>
<text x="555.20" y="208.87" font-size="6.30" fill="#3a3a3a" text-anchor="middle" >30</text>
<line x1="550.60" y1="210.60" x2="559.60" y2="210.60" stroke="#4a4a4a" stroke-width="0.40" />
<line x1="550.60" y1="210.60" x2="550.60" y2="228.00" stroke="#4a4a4a" stroke-width="0.40" />
<line x1="544.00" y1="218.40" x2="552.00" y2="218.40" stroke="#4a4a4a" stroke-width="0.40" />
<line x1="544.00" y1="224.80" x2="552.00" y2="224.80" stroke="#4a4a4a" stroke-width="0.40" />
<polygon points="550.60,218.40 550.10,216.20 551.10,216.20" fill="#4a4a4a"/>
<polygon points="550.60,224.80 551.10,227.00 550.10,227.00" fill="#4a4a4a"/>
<line x1="520.40" y1="218.40" x2="532.20" y2="218.40" stroke="#4a4a4a" stroke-width="0.40" />
<line x1="520.40" y1="224.80" x2="532.20" y2="224.80" stroke="#4a4a4a" stroke-width="0.40" />
<line x1="522.00" y1="215.00" x2="522.00" y2="228.40" stroke="#4a4a4a" stroke-width="0.40" />
<polygon points="522.00,218.40 521.50,216.20 522.50,216.20" fill="#4a4a4a"/>
<polygon points="522.00,224.80 522.50,227.00 521.50,227.00" fill="#4a4a4a"/>
<text font-size="6.30" fill="#3a3a3a" text-anchor="middle" transform="translate(516.80 221.80) rotate(-90)" y="2.27">22</text>
<line x1="532.40" y1="225.00" x2="532.40" y2="240.40" stroke="#4a4a4a" stroke-width="0.40" />
<line x1="544.00" y1="225.00" x2="544.00" y2="240.40" stroke="#4a4a4a" stroke-width="0.40" />
<line x1="532.40" y1="239.00" x2="544.00" y2="239.00" stroke="#4a4a4a" stroke-width="0.40" />
<polygon points="532.40,239.00 535.00,238.45 535.00,239.55" fill="#4a4a4a"/>
<polygon points="544.00,239.00 541.40,239.55 541.40,238.45" fill="#4a4a4a"/>
<text x="538.40" y="236.87" font-size="6.30" fill="#3a3a3a" text-anchor="middle" >62</text>
<rect x="422.20" y="285.80" width="34.40" height="15.20" fill="#e4e5e6" stroke="#222" stroke-width="0.80" rx="0.00" />
<line x1="422.20" y1="297.20" x2="456.60" y2="297.20" stroke="#333" stroke-width="0.50" />
<path d="M426 296.8 v-2 h4 v2 M434 296.8 v-3.6 h7 v3.6 M436 295 h3 M446 296.8 v-2 h5 v2" fill="none" stroke="#555" stroke-width="0.4"/>
<circle cx="425.6" cy="299.2" r="0.7" fill="#fff" stroke="#444" stroke-width="0.35"/>
<circle cx="439.4" cy="299.2" r="0.7" fill="#fff" stroke="#444" stroke-width="0.35"/>
<circle cx="453.0" cy="299.2" r="0.7" fill="#fff" stroke="#444" stroke-width="0.35"/>
<line x1="378.40" y1="296.80" x2="422.00" y2="296.80" stroke="#4a4a4a" stroke-width="0.40" />
<line x1="456.60" y1="296.80" x2="472.60" y2="296.80" stroke="#4a4a4a" stroke-width="0.40" />
<line x1="390.60" y1="299.00" x2="422.00" y2="299.00" stroke="#4a4a4a" stroke-width="0.40" />
<line x1="456.60" y1="299.00" x2="472.60" y2="299.00" stroke="#888" stroke-width="0.40" />
<line x1="402.60" y1="301.50" x2="475.20" y2="301.50" stroke="#888" stroke-width="0.45" />
<line x1="397.00" y1="322.30" x2="481.00" y2="322.30" stroke="#777" stroke-width="0.45" stroke-dasharray="8 2.4"/>
<line x1="409.60" y1="338.40" x2="468.40" y2="338.40" stroke="#888" stroke-width="0.45" />
<line x1="402.00" y1="341.70" x2="475.00" y2="341.70" stroke="#888" stroke-width="0.45" />
<line x1="390.60" y1="344.00" x2="472.40" y2="344.00" stroke="#777" stroke-width="0.40" />
<rect x="422.20" y="343.20" width="34.40" height="4.20" fill="#e4e5e6" stroke="#222" stroke-width="0.80" rx="0.00" />
<circle cx="425.6" cy="345.3" r="0.7" fill="#fff" stroke="#444" stroke-width="0.35"/>
<circle cx="439.4" cy="345.3" r="0.7" fill="#fff" stroke="#444" stroke-width="0.35"/>
<circle cx="453.0" cy="345.3" r="0.7" fill="#fff" stroke="#444" stroke-width="0.35"/>
<line x1="378.40" y1="347.30" x2="422.00" y2="347.30" stroke="#4a4a4a" stroke-width="0.40" />
<line x1="379.80" y1="296.80" x2="379.80" y2="347.30" stroke="#4a4a4a" stroke-width="0.40" />
<polygon points="379.80,296.80 380.35,299.40 379.25,299.40" fill="#4a4a4a"/>
<polygon points="379.80,347.30 379.25,344.70 380.35,344.70" fill="#4a4a4a"/>
<line x1="392.20" y1="299.00" x2="392.20" y2="344.00" stroke="#4a4a4a" stroke-width="0.40" />
<polygon points="392.20,299.00 392.75,301.60 391.65,301.60" fill="#4a4a4a"/>
<polygon points="392.20,344.00 391.65,341.40 392.75,341.40" fill="#4a4a4a"/>
<text font-size="6.30" fill="#3a3a3a" text-anchor="middle" transform="translate(374.80 321.80) rotate(-90)" y="2.27">134</text>
<text font-size="6.30" fill="#3a3a3a" text-anchor="middle" transform="translate(388.00 321.80) rotate(-90)" y="2.27">122</text>
<text x="393.6" y="280.57" font-size="6.30" fill="#3a3a3a">2-Ø6<tspan font-size="4.9" dy="-0.5">&#9661;</tspan><tspan dy="0.5" font-size="0.1"> </tspan>15 H7</text>
<line x1="393.20" y1="282.20" x2="430.40" y2="282.20" stroke="#4a4a4a" stroke-width="0.40" />
<line x1="430.40" y1="282.20" x2="441.60" y2="302.60" stroke="#4a4a4a" stroke-width="0.40" />
<polygon points="442.00,303.20 440.32,301.38 441.38,300.81" fill="#4a4a4a"/>
<text x="386.8" y="358.67" font-size="6.30" fill="#3a3a3a">4-M6<tspan font-size="4.9" dy="-0.5">&#9661;</tspan><tspan dy="0.5" font-size="0.1"> </tspan>15</text>
<line x1="386.40" y1="359.80" x2="414.40" y2="359.80" stroke="#4a4a4a" stroke-width="0.40" />
<line x1="414.40" y1="359.80" x2="427.80" y2="340.80" stroke="#4a4a4a" stroke-width="0.40" />
<polygon points="428.20,340.30 427.30,342.61 426.32,341.91" fill="#4a4a4a"/>
<line x1="426.00" y1="347.60" x2="426.00" y2="369.00" stroke="#4a4a4a" stroke-width="0.40" />
<line x1="453.20" y1="347.60" x2="453.20" y2="369.00" stroke="#4a4a4a" stroke-width="0.40" />
<line x1="426.00" y1="367.50" x2="453.20" y2="367.50" stroke="#4a4a4a" stroke-width="0.40" />
<polygon points="426.00,367.50 428.60,366.95 428.60,368.05" fill="#4a4a4a"/>
<polygon points="453.20,367.50 450.60,368.05 450.60,366.95" fill="#4a4a4a"/>
<line x1="422.20" y1="347.60" x2="422.20" y2="380.00" stroke="#4a4a4a" stroke-width="0.40" />
<line x1="456.60" y1="347.60" x2="456.60" y2="380.00" stroke="#4a4a4a" stroke-width="0.40" />
<line x1="422.20" y1="378.50" x2="456.60" y2="378.50" stroke="#4a4a4a" stroke-width="0.40" />
<polygon points="422.20,378.50 424.80,377.95 424.80,379.05" fill="#4a4a4a"/>
<polygon points="456.60,378.50 454.00,379.05 454.00,377.95" fill="#4a4a4a"/>
<text x="439.80" y="365.07" font-size="6.30" fill="#3a3a3a" text-anchor="middle" >72</text>
<text x="439.80" y="376.67" font-size="6.30" fill="#3a3a3a" text-anchor="middle" >90</text>
<text x="519.80" y="323.90" font-size="6.40" fill="#2ea7e0" text-anchor="middle" letter-spacing="0.1">B-Detail View</text>
<path d="M408.6 410.2 H554 q7.4 0 7.4 7.4 V429.3 q0 7.4 -7.4 7.4 H408.6 q-2 0 -2 -2 V412.2 q0 -2 2 -2 z" fill="url(#gh)" stroke="#222" stroke-width="0.7"/>
<line x1="410.40" y1="412.20" x2="556.00" y2="412.20" stroke="#999" stroke-width="0.40" />
<line x1="410.40" y1="434.60" x2="556.00" y2="434.60" stroke="#999" stroke-width="0.40" />
<line x1="410.60" y1="411.00" x2="410.60" y2="436.00" stroke="#555" stroke-width="0.45" />
<line x1="554.60" y1="411.00" x2="554.60" y2="436.00" stroke="#555" stroke-width="0.45" />
<path d="M555 411 q6 12.6 0 25.2" fill="none" stroke="#666" stroke-width="0.4"/>
<rect x="411.8" y="417.4" width="1" height="1" fill="#333"/>
<rect x="411.8" y="429.4" width="1" height="1" fill="#333"/>
<rect x="553.4" y="417.4" width="1" height="1" fill="#333"/>
<rect x="553.4" y="429.4" width="1" height="1" fill="#333"/>
<line x1="400.00" y1="423.60" x2="566.00" y2="423.60" stroke="#777" stroke-width="0.45" stroke-dasharray="9 2.4 4 2.4"/>
<path d="M536.8 410 l0.4 -1.6 h1.2 l0.4 1.6 z" fill="#999" stroke="#333" stroke-width="0.35"/>
<path d="M447.4 410 V405.4 H465.8 V410" fill="#e6e6e6" stroke="#222" stroke-width="0.6"/>
<rect x="449.60" y="406.80" width="14.00" height="2.60" fill="#f4f4f4" stroke="#555" stroke-width="0.40" rx="0.00" />
<line x1="465.80" y1="405.40" x2="498.00" y2="406.20" stroke="#555" stroke-width="0.40" />
<line x1="498.00" y1="406.20" x2="511.00" y2="409.80" stroke="#555" stroke-width="0.40" />
<line x1="465.80" y1="407.20" x2="497.00" y2="408.00" stroke="#999" stroke-width="0.40" />
<path d="M449 436.8 v1.8 h14 v-1.8" fill="#eee" stroke="#444" stroke-width="0.4"/>
<rect x="386.60" y="422.60" width="20.00" height="28.60" fill="#e2e3e4" stroke="#222" stroke-width="0.70" rx="0.00" />
<line x1="388.60" y1="423.00" x2="388.60" y2="451.00" stroke="#888" stroke-width="0.40" />
<line x1="404.60" y1="423.00" x2="404.60" y2="451.00" stroke="#888" stroke-width="0.40" />
<path d="M397.4 422.4 v-2.4 q0 -1 1 -1 h3.4 q1 0 1 1 v2.4 z" fill="#ccc" stroke="#333" stroke-width="0.45"/>
<path d="M385.4 451.2 h22 v1.6 h-2.4 v1.2 h-4 v-1.2 h-4 v1.2 h-4 v-1.2 h-4 v1.2 h-3.6 z" fill="#888" stroke="#222" stroke-width="0.45"/>
<path d="M406.6 436.8 H430.6 l1.6 4.6 l3.4 1.4 l1 4 l-1.6 4.6 h-4 v1.4 h-19 l-1.4 -1.6 z" fill="#e2e3e4" stroke="#222" stroke-width="0.6"/>
<rect x="412.60" y="444.00" width="16.40" height="5.40" fill="#cfcfcf" stroke="#333" stroke-width="0.45" rx="0.00" />
<line x1="414.00" y1="445.20" x2="427.60" y2="445.20" stroke="#444" stroke-width="0.50" stroke-dasharray="1.4 0.6"/>
<line x1="414.00" y1="446.60" x2="427.60" y2="446.60" stroke="#444" stroke-width="0.50" stroke-dasharray="1.4 0.6"/>
<line x1="414.00" y1="448.00" x2="427.60" y2="448.00" stroke="#444" stroke-width="0.50" stroke-dasharray="1.4 0.6"/>
<line x1="408.00" y1="452.60" x2="432.00" y2="452.60" stroke="#222" stroke-width="0.80" />
<circle cx="456.2" cy="423.6" r="17" fill="none" stroke="#4bb4e6" stroke-width="0.7"/>
<line x1="464.00" y1="438.80" x2="467.80" y2="450.40" stroke="#4bb4e6" stroke-width="0.50" />
<line x1="467.80" y1="450.40" x2="473.60" y2="450.40" stroke="#4bb4e6" stroke-width="0.50" />
<text x="470.40" y="449.67" font-size="6.30" fill="#2ea7e0" text-anchor="middle" >B</text>
<line x1="361.00" y1="405.20" x2="447.40" y2="405.20" stroke="#4a4a4a" stroke-width="0.40" />
<line x1="361.00" y1="454.80" x2="386.00" y2="454.80" stroke="#4a4a4a" stroke-width="0.40" />
<line x1="376.40" y1="423.60" x2="400.00" y2="423.60" stroke="#4a4a4a" stroke-width="0.40" />
<line x1="362.40" y1="405.20" x2="362.40" y2="454.80" stroke="#4a4a4a" stroke-width="0.40" />
<polygon points="362.40,405.20 362.95,407.80 361.85,407.80" fill="#4a4a4a"/>
<polygon points="362.40,454.80 361.85,452.20 362.95,452.20" fill="#4a4a4a"/>
<line x1="377.60" y1="423.60" x2="377.60" y2="454.80" stroke="#4a4a4a" stroke-width="0.40" />
<polygon points="377.60,423.60 378.15,426.20 377.05,426.20" fill="#4a4a4a"/>
<polygon points="377.60,454.80 377.05,452.20 378.15,452.20" fill="#4a4a4a"/>
<text font-size="6.30" fill="#3a3a3a" text-anchor="middle" transform="translate(356.60 430.00) rotate(-90)" y="2.27">267</text>
<text font-size="6.30" fill="#3a3a3a" text-anchor="middle" transform="translate(372.00 439.40) rotate(-90)" y="2.27">171.5</text>
</svg>
<svg class="abs" style="left:0;top:0;" width="650" height="901" viewBox="0 0 650 901">
<defs><radialGradient id="gb" cx="0.35" cy="0.3" r="0.8"><stop offset="0" stop-color="#a9d48f"/><stop offset="0.55" stop-color="#62ad5b"/><stop offset="1" stop-color="#3f9149"/></radialGradient></defs>
<rect x="51.40" y="758.5" width="79.4" height="79" rx="7" fill="#fff" stroke="#5f5f5f" stroke-width="0.85"/>
<rect x="53.90" y="824.2" width="74.20" height="9.9" rx="1.2" fill="#fff" stroke="#7d7d7d" stroke-width="0.65"/>
<rect x="67.70" y="807.8" width="5.90" height="26.3" fill="#fff" stroke="#7d7d7d" stroke-width="0.65"/>
<rect x="73.60" y="773.2" width="6.2" height="60.9" fill="#fff" stroke="#7d7d7d" stroke-width="0.65"/>
<clipPath id="cc1"><rect x="79.90" y="780.6" width="46.00" height="34.2"/></clipPath>
<g stroke="#6ab36f" stroke-width="0.7" fill="none">
<rect x="79.90" y="780.6" width="46.00" height="34.2" stroke-dasharray="4 1"/>
<g clip-path="url(#cc1)" stroke-dasharray="9 1.2">
<line x1="24.05" y1="780.6" x2="61.10" y2="815.8" stroke-dashoffset="2"/>
<line x1="32.85" y1="780.6" x2="69.90" y2="815.8" stroke-dashoffset="6"/>
<line x1="41.65" y1="780.6" x2="78.70" y2="815.8" stroke-dashoffset="0"/>
<line x1="50.45" y1="780.6" x2="87.50" y2="815.8" stroke-dashoffset="4"/>
<line x1="59.25" y1="780.6" x2="96.30" y2="815.8" stroke-dashoffset="8"/>
<line x1="68.05" y1="780.6" x2="105.10" y2="815.8" stroke-dashoffset="2"/>
<line x1="76.85" y1="780.6" x2="113.90" y2="815.8" stroke-dashoffset="6"/>
<line x1="85.65" y1="780.6" x2="122.70" y2="815.8" stroke-dashoffset="0"/>
<line x1="94.45" y1="780.6" x2="131.50" y2="815.8" stroke-dashoffset="4"/>
<line x1="103.25" y1="780.6" x2="140.30" y2="815.8" stroke-dashoffset="8"/>
<line x1="112.05" y1="780.6" x2="149.10" y2="815.8" stroke-dashoffset="2"/>
<line x1="120.85" y1="780.6" x2="157.90" y2="815.8" stroke-dashoffset="6"/>
<line x1="129.65" y1="780.6" x2="166.70" y2="815.8" stroke-dashoffset="0"/>
<line x1="138.45" y1="780.6" x2="175.50" y2="815.8" stroke-dashoffset="4"/>
<line x1="147.25" y1="780.6" x2="184.30" y2="815.8" stroke-dashoffset="8"/>
<line x1="156.05" y1="780.6" x2="193.10" y2="815.8" stroke-dashoffset="2"/>
<line x1="164.85" y1="780.6" x2="201.90" y2="815.8" stroke-dashoffset="6"/>
</g></g>
<rect x="67.70" y="807.8" width="5.90" height="26.3" fill="none" stroke="#7d7d7d" stroke-width="0.65"/>
<rect x="73.60" y="773.2" width="6.2" height="60.9" fill="none" stroke="#7d7d7d" stroke-width="0.65"/>
<rect x="76.80" y="809.8" width="3.00" height="9.7" fill="#fff" fill-opacity="0.6" stroke="#7d7d7d" stroke-width="0.6"/>
<circle cx="60.20" cy="829.20" r="2.1" fill="#fff" stroke="#666" stroke-width="0.5"/>
<text x="60.20" y="830.35" font-size="3.2" font-weight="bold" fill="#555" text-anchor="middle">M</text>
<circle cx="76.80" cy="829.20" r="2.1" fill="#fff" stroke="#666" stroke-width="0.5"/>
<text x="76.80" y="830.35" font-size="3.2" font-weight="bold" fill="#555" text-anchor="middle">M</text>
<circle cx="61.60" cy="768.7" r="7.6" fill="url(#gb)"/>
<text x="61.40" y="771.9" font-size="9.2" fill="#fff" text-anchor="middle" letter-spacing="-0.35">A1</text>
<rect x="134.60" y="758.5" width="79.4" height="79" rx="7" fill="#fff" stroke="#5f5f5f" stroke-width="0.85"/>
<rect x="137.00" y="824.2" width="74.20" height="9.9" rx="1.2" fill="#fff" stroke="#7d7d7d" stroke-width="0.65"/>
<rect x="156.40" y="807.8" width="6.30" height="26.3" fill="#fff" stroke="#7d7d7d" stroke-width="0.65"/>
<rect x="150.20" y="773.2" width="6.2" height="60.9" fill="#fff" stroke="#7d7d7d" stroke-width="0.65"/>
<clipPath id="cc2"><rect x="150.20" y="780.6" width="45.70" height="34.2"/></clipPath>
<g stroke="#6ab36f" stroke-width="0.7" fill="none">
<rect x="150.20" y="780.6" width="45.70" height="34.2" stroke-dasharray="4 1"/>
<g clip-path="url(#cc2)" stroke-dasharray="9 1.2">
<line x1="94.35" y1="780.6" x2="131.40" y2="815.8" stroke-dashoffset="2"/>
<line x1="103.15" y1="780.6" x2="140.20" y2="815.8" stroke-dashoffset="6"/>
<line x1="111.95" y1="780.6" x2="149.00" y2="815.8" stroke-dashoffset="0"/>
<line x1="120.75" y1="780.6" x2="157.80" y2="815.8" stroke-dashoffset="4"/>
<line x1="129.55" y1="780.6" x2="166.60" y2="815.8" stroke-dashoffset="8"/>
<line x1="138.35" y1="780.6" x2="175.40" y2="815.8" stroke-dashoffset="2"/>
<line x1="147.15" y1="780.6" x2="184.20" y2="815.8" stroke-dashoffset="6"/>
<line x1="155.95" y1="780.6" x2="193.00" y2="815.8" stroke-dashoffset="0"/>
<line x1="164.75" y1="780.6" x2="201.80" y2="815.8" stroke-dashoffset="4"/>
<line x1="173.55" y1="780.6" x2="210.60" y2="815.8" stroke-dashoffset="8"/>
<line x1="182.35" y1="780.6" x2="219.40" y2="815.8" stroke-dashoffset="2"/>
<line x1="191.15" y1="780.6" x2="228.20" y2="815.8" stroke-dashoffset="6"/>
<line x1="199.95" y1="780.6" x2="237.00" y2="815.8" stroke-dashoffset="0"/>
<line x1="208.75" y1="780.6" x2="245.80" y2="815.8" stroke-dashoffset="4"/>
<line x1="217.55" y1="780.6" x2="254.60" y2="815.8" stroke-dashoffset="8"/>
<line x1="226.35" y1="780.6" x2="263.40" y2="815.8" stroke-dashoffset="2"/>
<line x1="235.15" y1="780.6" x2="272.20" y2="815.8" stroke-dashoffset="6"/>
</g></g>
<rect x="156.40" y="807.8" width="6.30" height="26.3" fill="none" stroke="#7d7d7d" stroke-width="0.65"/>
<rect x="150.20" y="773.2" width="6.2" height="60.9" fill="none" stroke="#7d7d7d" stroke-width="0.65"/>
<rect x="150.20" y="809.8" width="2.80" height="9.7" fill="#fff" fill-opacity="0.6" stroke="#7d7d7d" stroke-width="0.6"/>
<circle cx="143.30" cy="829.20" r="2.1" fill="#fff" stroke="#666" stroke-width="0.5"/>
<text x="143.30" y="830.35" font-size="3.2" font-weight="bold" fill="#555" text-anchor="middle">M</text>
<circle cx="153.20" cy="829.20" r="2.1" fill="#fff" stroke="#666" stroke-width="0.5"/>
<text x="153.20" y="830.35" font-size="3.2" font-weight="bold" fill="#555" text-anchor="middle">M</text>
<circle cx="144.80" cy="768.7" r="7.6" fill="url(#gb)"/>
<text x="144.60" y="771.9" font-size="9.2" fill="#fff" text-anchor="middle" letter-spacing="-0.35">A2</text>
<rect x="217.80" y="758.5" width="79.4" height="79" rx="7" fill="#fff" stroke="#5f5f5f" stroke-width="0.85"/>
<rect x="220.20" y="824.2" width="74.30" height="9.9" rx="1.2" fill="#fff" stroke="#7d7d7d" stroke-width="0.65"/>
<rect x="274.80" y="807.8" width="5.80" height="26.3" fill="#fff" stroke="#7d7d7d" stroke-width="0.65"/>
<rect x="268.60" y="773.2" width="6.2" height="60.9" fill="#fff" stroke="#7d7d7d" stroke-width="0.65"/>
<clipPath id="cc3"><rect x="223.00" y="780.6" width="45.60" height="34.2"/></clipPath>
<g stroke="#6ab36f" stroke-width="0.7" fill="none">
<rect x="223.00" y="780.6" width="45.60" height="34.2" stroke-dasharray="4 1"/>
<g clip-path="url(#cc3)" stroke-dasharray="9 1.2">
<line x1="167.15" y1="780.6" x2="204.20" y2="815.8" stroke-dashoffset="2"/>
<line x1="175.95" y1="780.6" x2="213.00" y2="815.8" stroke-dashoffset="6"/>
<line x1="184.75" y1="780.6" x2="221.80" y2="815.8" stroke-dashoffset="0"/>
<line x1="193.55" y1="780.6" x2="230.60" y2="815.8" stroke-dashoffset="4"/>
<line x1="202.35" y1="780.6" x2="239.40" y2="815.8" stroke-dashoffset="8"/>
<line x1="211.15" y1="780.6" x2="248.20" y2="815.8" stroke-dashoffset="2"/>
<line x1="219.95" y1="780.6" x2="257.00" y2="815.8" stroke-dashoffset="6"/>
<line x1="228.75" y1="780.6" x2="265.80" y2="815.8" stroke-dashoffset="0"/>
<line x1="237.55" y1="780.6" x2="274.60" y2="815.8" stroke-dashoffset="4"/>
<line x1="246.35" y1="780.6" x2="283.40" y2="815.8" stroke-dashoffset="8"/>
<line x1="255.15" y1="780.6" x2="292.20" y2="815.8" stroke-dashoffset="2"/>
<line x1="263.95" y1="780.6" x2="301.00" y2="815.8" stroke-dashoffset="6"/>
<line x1="272.75" y1="780.6" x2="309.80" y2="815.8" stroke-dashoffset="0"/>
<line x1="281.55" y1="780.6" x2="318.60" y2="815.8" stroke-dashoffset="4"/>
<line x1="290.35" y1="780.6" x2="327.40" y2="815.8" stroke-dashoffset="8"/>
<line x1="299.15" y1="780.6" x2="336.20" y2="815.8" stroke-dashoffset="2"/>
<line x1="307.95" y1="780.6" x2="345.00" y2="815.8" stroke-dashoffset="6"/>
</g></g>
<rect x="274.80" y="807.8" width="5.80" height="26.3" fill="none" stroke="#7d7d7d" stroke-width="0.65"/>
<rect x="268.60" y="773.2" width="6.2" height="60.9" fill="none" stroke="#7d7d7d" stroke-width="0.65"/>
<rect x="268.60" y="809.8" width="3.00" height="9.7" fill="#fff" fill-opacity="0.6" stroke="#7d7d7d" stroke-width="0.6"/>
<circle cx="271.60" cy="829.20" r="2.1" fill="#fff" stroke="#666" stroke-width="0.5"/>
<text x="271.60" y="830.35" font-size="3.2" font-weight="bold" fill="#555" text-anchor="middle">M</text>
<circle cx="287.50" cy="829.20" r="2.1" fill="#fff" stroke="#666" stroke-width="0.5"/>
<text x="287.50" y="830.35" font-size="3.2" font-weight="bold" fill="#555" text-anchor="middle">M</text>
<circle cx="228.00" cy="768.7" r="7.6" fill="url(#gb)"/>
<text x="227.80" y="771.9" font-size="9.2" fill="#fff" text-anchor="middle" letter-spacing="-0.35">A3</text>
<rect x="301.20" y="758.5" width="79.4" height="79" rx="7" fill="#fff" stroke="#5f5f5f" stroke-width="0.85"/>
<rect x="304.20" y="824.2" width="73.60" height="9.9" rx="1.2" fill="#fff" stroke="#7d7d7d" stroke-width="0.65"/>
<rect x="352.60" y="807.8" width="6.00" height="26.3" fill="#fff" stroke="#7d7d7d" stroke-width="0.65"/>
<rect x="358.60" y="773.2" width="6.2" height="60.9" fill="#fff" stroke="#7d7d7d" stroke-width="0.65"/>
<clipPath id="cc4"><rect x="318.80" y="780.6" width="45.80" height="34.2"/></clipPath>
<g stroke="#6ab36f" stroke-width="0.7" fill="none">
<rect x="318.80" y="780.6" width="45.80" height="34.2" stroke-dasharray="4 1"/>
<g clip-path="url(#cc4)" stroke-dasharray="9 1.2">
<line x1="262.95" y1="780.6" x2="300.00" y2="815.8" stroke-dashoffset="2"/>
<line x1="271.75" y1="780.6" x2="308.80" y2="815.8" stroke-dashoffset="6"/>
<line x1="280.55" y1="780.6" x2="317.60" y2="815.8" stroke-dashoffset="0"/>
<line x1="289.35" y1="780.6" x2="326.40" y2="815.8" stroke-dashoffset="4"/>
<line x1="298.15" y1="780.6" x2="335.20" y2="815.8" stroke-dashoffset="8"/>
<line x1="306.95" y1="780.6" x2="344.00" y2="815.8" stroke-dashoffset="2"/>
<line x1="315.75" y1="780.6" x2="352.80" y2="815.8" stroke-dashoffset="6"/>
<line x1="324.55" y1="780.6" x2="361.60" y2="815.8" stroke-dashoffset="0"/>
<line x1="333.35" y1="780.6" x2="370.40" y2="815.8" stroke-dashoffset="4"/>
<line x1="342.15" y1="780.6" x2="379.20" y2="815.8" stroke-dashoffset="8"/>
<line x1="350.95" y1="780.6" x2="388.00" y2="815.8" stroke-dashoffset="2"/>
<line x1="359.75" y1="780.6" x2="396.80" y2="815.8" stroke-dashoffset="6"/>
<line x1="368.55" y1="780.6" x2="405.60" y2="815.8" stroke-dashoffset="0"/>
<line x1="377.35" y1="780.6" x2="414.40" y2="815.8" stroke-dashoffset="4"/>
<line x1="386.15" y1="780.6" x2="423.20" y2="815.8" stroke-dashoffset="8"/>
<line x1="394.95" y1="780.6" x2="432.00" y2="815.8" stroke-dashoffset="2"/>
<line x1="403.75" y1="780.6" x2="440.80" y2="815.8" stroke-dashoffset="6"/>
</g></g>
<rect x="352.60" y="807.8" width="6.00" height="26.3" fill="none" stroke="#7d7d7d" stroke-width="0.65"/>
<rect x="358.60" y="773.2" width="6.2" height="60.9" fill="none" stroke="#7d7d7d" stroke-width="0.65"/>
<rect x="361.80" y="809.8" width="3.00" height="9.7" fill="#fff" fill-opacity="0.6" stroke="#7d7d7d" stroke-width="0.6"/>
<circle cx="361.60" cy="829.20" r="2.1" fill="#fff" stroke="#666" stroke-width="0.5"/>
<text x="361.60" y="830.35" font-size="3.2" font-weight="bold" fill="#555" text-anchor="middle">M</text>
<circle cx="370.60" cy="829.20" r="2.1" fill="#fff" stroke="#666" stroke-width="0.5"/>
<text x="370.60" y="830.35" font-size="3.2" font-weight="bold" fill="#555" text-anchor="middle">M</text>
<circle cx="311.40" cy="768.7" r="7.6" fill="url(#gb)"/>
<text x="311.20" y="771.9" font-size="9.2" fill="#fff" text-anchor="middle" letter-spacing="-0.35">A4</text>
</svg>
</div>
</body></html>
